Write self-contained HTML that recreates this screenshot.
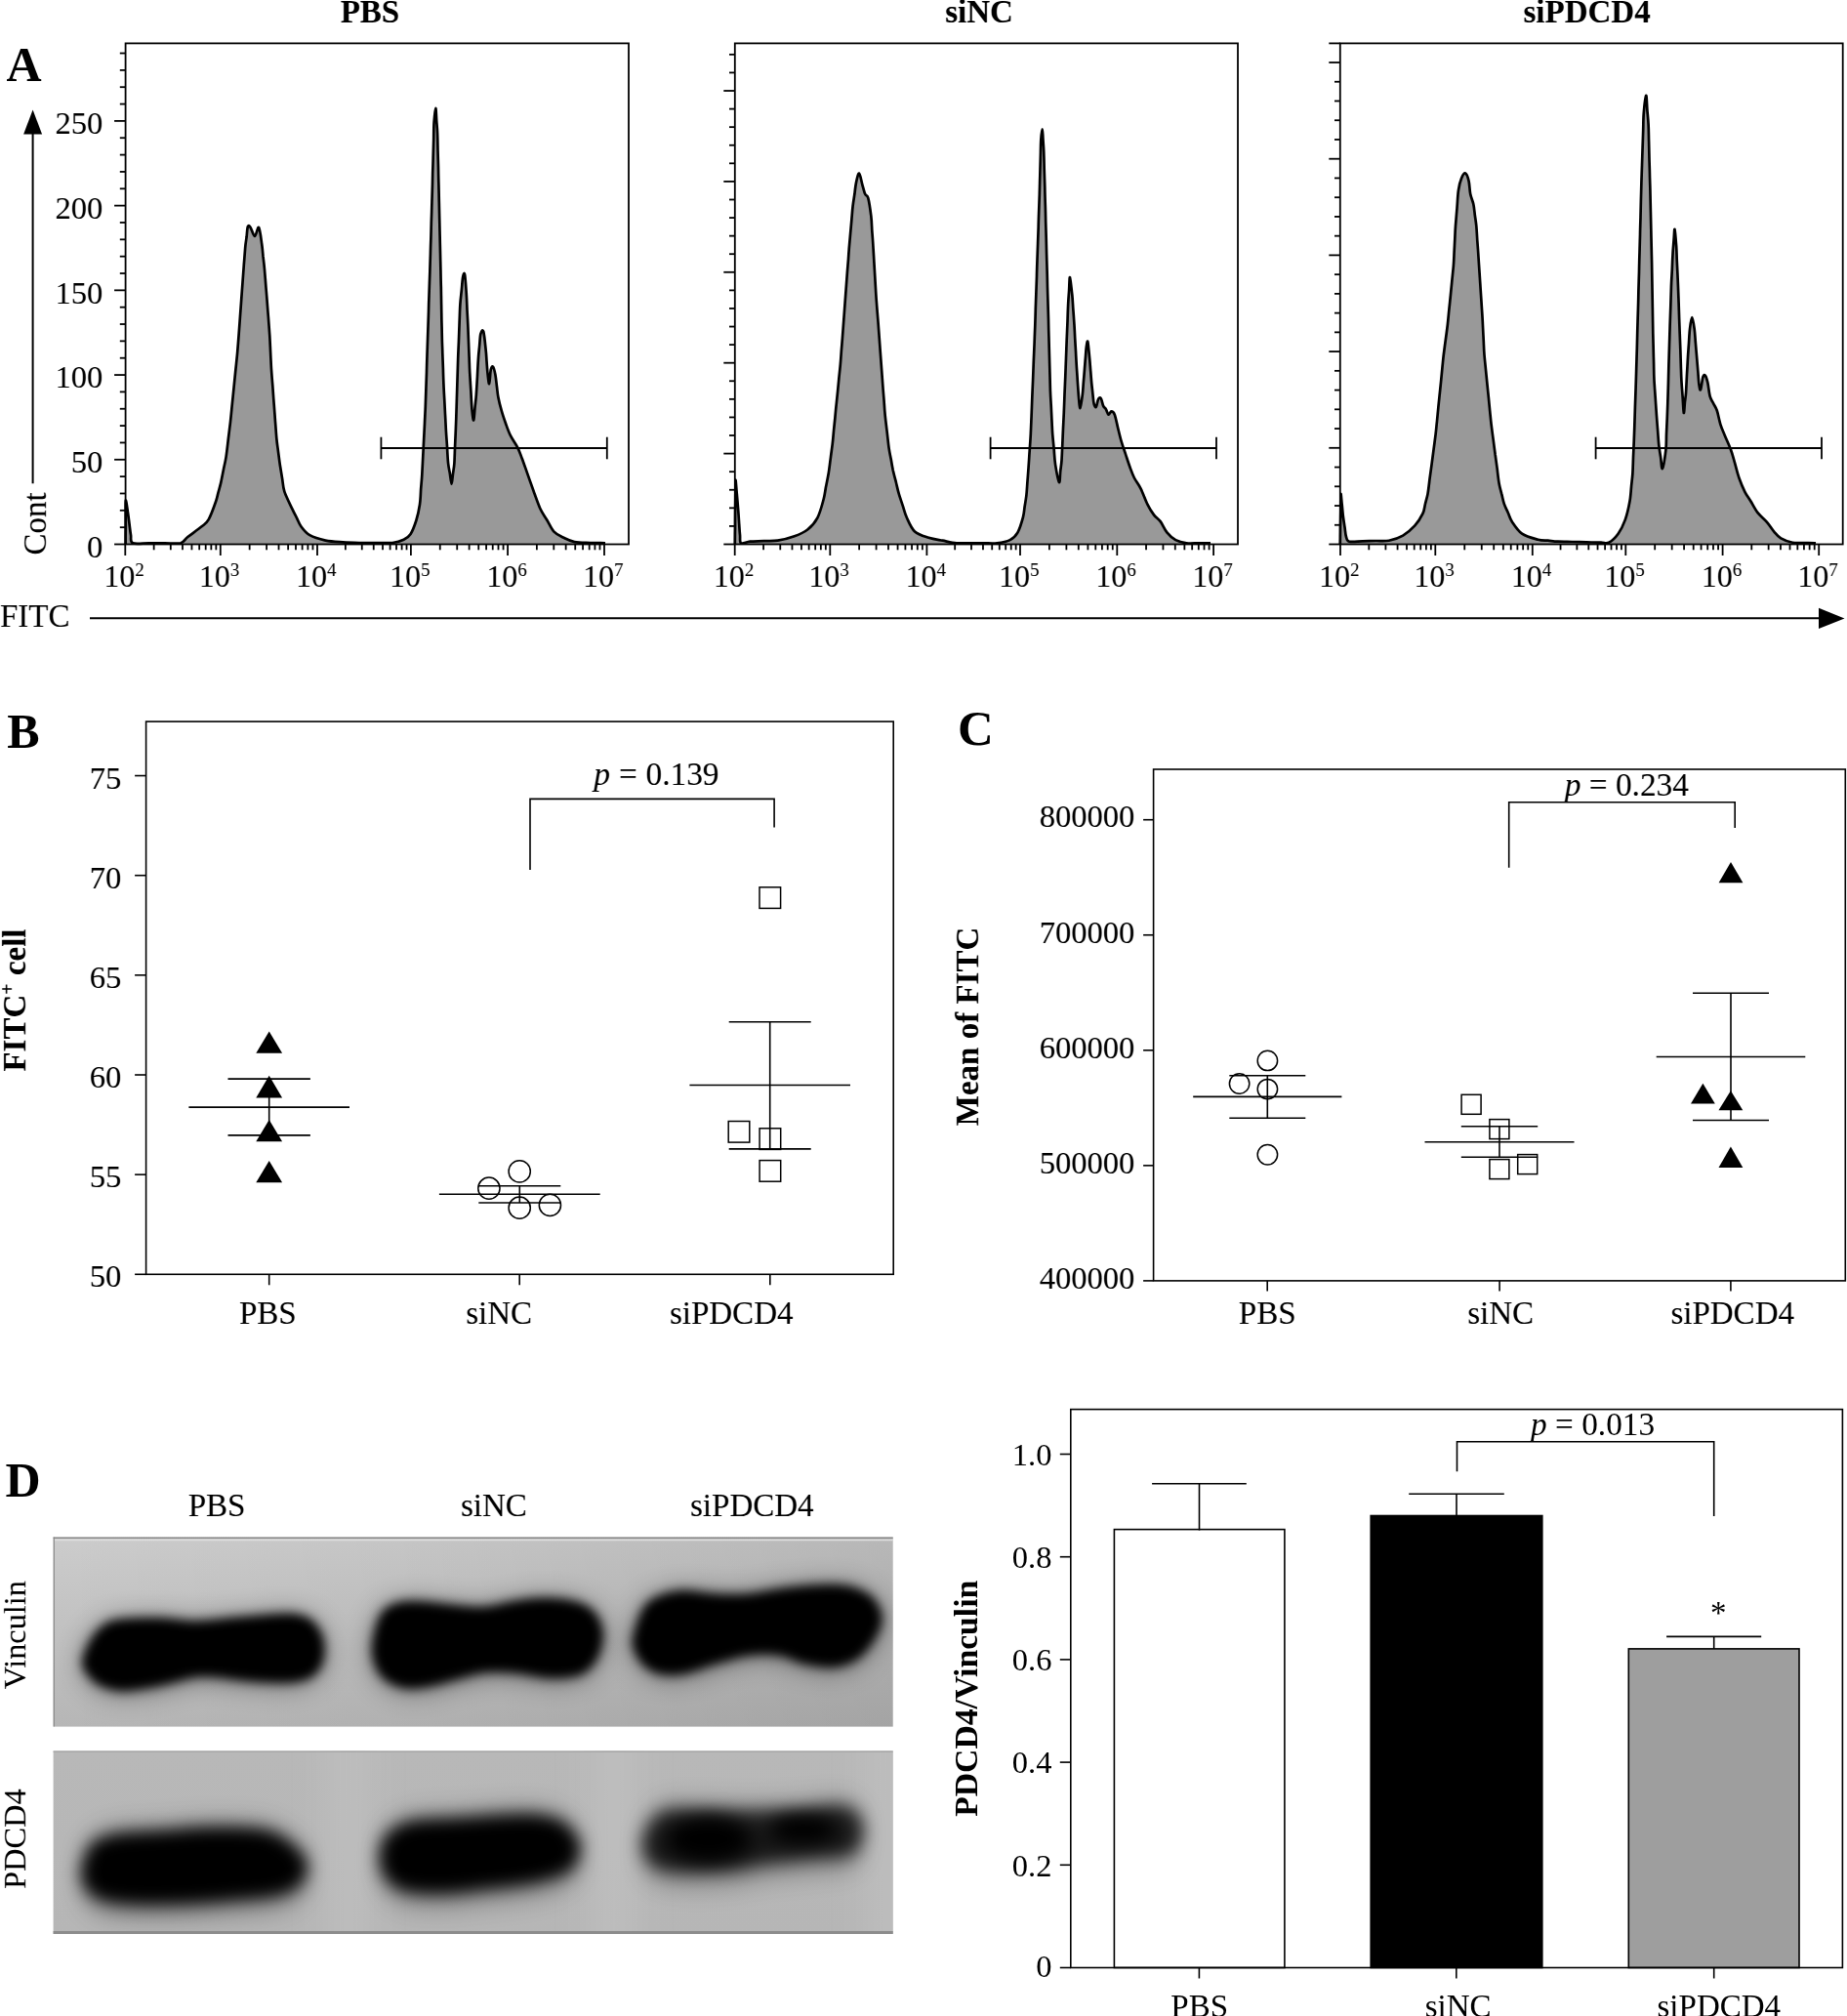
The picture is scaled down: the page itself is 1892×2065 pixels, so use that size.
<!DOCTYPE html>
<html><head><meta charset="utf-8"><style>
html,body{margin:0;padding:0;background:#fff;}
svg{display:block;filter:grayscale(1);}
text{font-family:"Liberation Serif",serif;fill:#000;}
</style></head><body>
<svg width="1892" height="2065" viewBox="0 0 1892 2065">
<rect width="1892" height="2065" fill="#fff"/>
<path d="M128.6,557.5 C128.6,555.0 128.6,547.5 128.7,542.5 C128.7,537.5 128.7,532.5 128.7,527.5 C128.8,522.5 128.4,512.9 128.8,512.5 C129.2,512.1 130.4,521.0 131.0,525.0 C131.6,529.0 132.0,532.7 132.5,536.5 C133.0,540.3 133.4,544.7 134.0,548.0 C134.6,551.3 132.9,554.9 136.0,556.3 C139.1,557.7 146.9,556.3 152.4,556.3 C157.8,556.3 163.3,556.3 168.7,556.3 C174.2,556.3 181.2,557.3 185.1,556.3 C189.0,555.2 188.7,552.8 192.3,550.0 C195.9,547.2 203.0,542.3 206.6,539.3 C210.2,536.3 211.3,536.3 213.7,532.1 C216.1,527.9 219.3,518.9 220.9,514.3 C222.5,509.7 222.7,507.7 223.6,504.4 C224.4,501.2 225.3,498.5 226.2,494.6 C227.1,490.7 228.0,485.7 228.9,481.2 C229.8,476.8 230.8,473.1 231.6,467.9 C232.4,462.7 233.1,456.0 233.8,450.0 C234.5,444.0 235.3,438.1 236.0,432.1 C236.7,426.1 237.2,420.2 237.8,414.2 C238.4,408.3 239.0,402.3 239.6,396.4 C240.2,390.4 240.8,384.5 241.4,378.5 C242.0,372.6 242.7,366.6 243.2,360.7 C243.7,354.8 244.1,348.8 244.6,342.9 C245.0,336.9 245.5,330.9 245.9,325.0 C246.3,319.1 246.8,313.1 247.2,307.1 C247.6,301.2 248.1,295.2 248.5,289.3 C248.9,283.4 249.4,277.4 249.8,271.4 C250.3,265.5 250.8,258.4 251.2,253.6 C251.6,248.8 252.1,246.4 252.6,242.8 C253.0,239.3 253.2,233.7 253.9,232.1 C254.6,230.5 255.4,231.3 256.6,233.0 C257.8,234.7 259.6,242.0 261.0,242.0 C262.4,242.0 263.9,231.7 265.1,233.0 C266.3,234.3 267.5,245.1 268.2,250.0 C268.9,254.9 269.1,258.3 269.5,262.5 C270.0,266.7 270.5,270.2 270.9,275.0 C271.3,279.8 271.8,285.7 272.2,291.1 C272.6,296.4 273.1,301.4 273.5,307.1 C273.9,312.8 274.4,319.0 274.9,325.0 C275.3,331.0 275.8,336.9 276.2,342.9 C276.6,348.9 276.8,354.8 277.1,360.8 C277.4,366.7 277.6,372.7 278.0,378.6 C278.4,384.6 278.9,390.5 279.4,396.5 C279.8,402.4 280.2,408.4 280.7,414.3 C281.1,420.2 281.6,426.2 282.0,432.1 C282.5,438.1 282.9,444.8 283.4,450.0 C283.9,455.2 284.6,458.9 285.1,463.4 C285.7,467.9 286.2,472.3 286.9,476.8 C287.6,481.3 288.4,485.7 289.1,490.2 C289.9,494.7 289.7,498.4 291.4,503.6 C293.1,508.8 297.3,516.9 299.4,521.4 C301.5,525.9 302.4,527.4 303.9,530.3 C305.4,533.3 306.2,536.3 308.4,539.3 C310.6,542.3 313.1,545.8 317.3,548.2 C321.5,550.6 327.8,552.4 333.4,553.6 C339.0,554.8 345.4,555.0 351.2,555.4 C357.0,555.8 362.4,555.9 368.0,556.0 C373.6,556.1 379.3,556.0 385.0,556.0 C390.7,556.0 397.2,556.5 402.0,556.0 C406.8,555.5 410.5,554.3 413.6,552.8 C416.7,551.3 418.5,550.3 420.6,547.0 C422.7,543.7 424.8,538.0 426.4,533.0 C428.0,528.0 429.2,521.9 430.0,516.7 C430.8,511.5 430.8,506.6 431.1,501.6 C431.5,496.5 432.0,491.8 432.3,486.4 C432.6,481.0 432.9,474.7 433.2,468.9 C433.5,463.1 433.8,457.2 434.1,451.4 C434.4,445.6 434.7,439.7 435.0,433.9 C435.2,428.1 435.6,422.2 435.8,416.4 C436.0,410.6 436.2,404.7 436.4,398.9 C436.6,393.1 436.8,387.3 437.0,381.4 C437.1,375.6 437.3,369.8 437.5,364.0 C437.7,358.2 437.9,352.3 438.1,346.5 C438.3,340.7 438.5,334.8 438.7,329.0 C438.9,323.2 439.1,317.3 439.2,311.5 C439.4,305.7 439.6,299.8 439.8,294.0 C440.0,288.2 440.2,282.1 440.4,276.5 C440.6,270.9 440.7,265.6 440.9,260.2 C441.0,254.7 441.2,249.3 441.4,243.9 C441.5,238.4 441.7,233.0 441.8,227.5 C442.0,222.1 442.2,216.7 442.3,211.2 C442.5,205.8 442.6,200.5 442.8,194.9 C443.0,189.3 443.1,183.2 443.2,177.4 C443.4,171.6 443.6,165.8 443.7,159.9 C443.9,154.1 444.0,148.3 444.2,142.5 C444.3,136.7 444.2,130.2 444.6,125.0 C445.0,119.8 445.9,111.2 446.3,111.0 C446.7,110.8 446.9,119.5 447.2,123.8 C447.5,128.1 447.9,131.5 448.1,136.6 C448.3,141.7 448.4,148.3 448.5,154.1 C448.7,159.9 448.8,165.8 449.0,171.6 C449.1,177.4 449.2,183.3 449.4,189.1 C449.5,194.9 449.7,200.8 449.8,206.6 C449.9,212.4 450.1,218.2 450.2,224.1 C450.3,229.9 450.5,235.7 450.6,241.6 C450.7,247.4 450.9,253.2 451.0,259.0 C451.1,264.8 451.3,270.7 451.4,276.5 C451.5,282.3 451.6,288.2 451.8,294.0 C451.9,299.8 452.0,305.7 452.1,311.5 C452.2,317.3 452.3,323.2 452.4,329.0 C452.6,334.8 452.7,341.0 452.8,346.5 C452.9,352.0 453.2,356.9 453.3,362.0 C453.5,367.2 453.7,372.4 453.9,377.6 C454.0,382.7 454.2,387.9 454.4,393.1 C454.6,398.3 454.9,403.5 455.2,408.6 C455.5,413.8 455.7,419.0 456.0,424.2 C456.3,429.3 456.5,434.2 456.8,439.7 C457.1,445.2 457.6,451.4 458.0,457.2 C458.3,463.0 458.6,470.0 459.1,474.7 C459.6,479.4 460.3,481.7 460.9,485.2 C461.4,488.7 462.1,495.7 462.6,495.7 C463.1,495.7 463.5,488.7 464.0,485.2 C464.5,481.7 465.1,479.0 465.4,474.7 C465.7,470.4 465.8,464.3 466.0,459.2 C466.2,454.0 466.5,448.8 466.7,443.6 C466.9,438.5 467.1,433.9 467.3,428.1 C467.5,422.3 467.7,415.1 467.9,408.7 C468.1,402.2 468.3,395.7 468.5,389.2 C468.7,382.8 468.9,376.3 469.1,369.8 C469.3,363.3 469.6,356.8 469.9,350.4 C470.1,343.9 470.4,337.4 470.6,330.9 C470.9,324.5 471.0,317.1 471.4,311.5 C471.8,305.9 472.3,302.2 472.8,297.5 C473.3,292.8 473.6,286.2 474.2,283.5 C474.8,280.8 475.5,278.5 476.1,281.2 C476.7,283.9 477.3,293.8 477.7,299.8 C478.1,305.8 478.3,311.5 478.5,317.3 C478.8,323.1 479.2,329.3 479.4,334.8 C479.6,340.3 479.8,345.2 480.0,350.3 C480.2,355.5 480.4,360.7 480.6,365.9 C480.8,371.0 480.9,375.5 481.2,381.4 C481.5,387.3 482.0,394.6 482.4,401.2 C482.8,407.9 483.1,416.2 483.6,421.1 C484.1,426.0 484.7,431.0 485.2,430.4 C485.7,429.8 486.1,421.9 486.5,417.6 C486.9,413.3 487.4,410.2 487.8,404.8 C488.2,399.4 488.6,391.6 489.0,385.0 C489.3,378.3 489.7,370.4 490.1,365.1 C490.5,359.9 490.9,357.3 491.2,353.5 C491.6,349.6 491.7,344.1 492.4,341.8 C493.1,339.5 494.3,336.8 495.2,339.5 C496.1,342.2 497.1,353.1 497.6,358.1 C498.2,363.1 498.2,365.9 498.5,369.8 C498.8,373.6 499.0,377.5 499.4,381.4 C499.8,385.3 500.6,393.5 501.1,393.1 C501.7,392.7 502.1,382.0 502.7,379.1 C503.3,376.2 504.2,374.8 505.0,375.6 C505.8,376.4 506.8,380.5 507.4,383.8 C508.0,387.1 508.4,391.6 508.9,395.5 C509.4,399.3 509.6,402.8 510.4,407.1 C511.2,411.4 512.5,416.4 513.9,421.1 C515.2,425.8 517.0,430.8 518.5,435.1 C520.0,439.4 521.2,442.8 523.2,446.7 C525.2,450.6 528.2,454.5 530.2,458.4 C532.2,462.3 533.1,465.3 534.9,470.0 C536.6,474.7 538.8,480.9 540.7,486.4 C542.6,491.8 544.4,496.9 546.5,502.7 C548.6,508.5 551.2,516.2 553.5,521.3 C555.8,526.3 558.2,529.1 560.5,533.0 C562.8,536.9 564.8,541.8 567.5,544.7 C570.2,547.6 573.3,548.8 576.8,550.5 C580.3,552.2 583.8,554.2 588.5,555.1 C593.2,556.0 599.5,555.8 604.8,556.0 C610.0,556.2 617.5,556.2 620.0,556.3 L620.0,557.5 L128.6,557.5 Z" fill="#999999" stroke="none"/>
<path d="M128.6,557.5 C128.6,555.0 128.6,547.5 128.7,542.5 C128.7,537.5 128.7,532.5 128.7,527.5 C128.8,522.5 128.4,512.9 128.8,512.5 C129.2,512.1 130.4,521.0 131.0,525.0 C131.6,529.0 132.0,532.7 132.5,536.5 C133.0,540.3 133.4,544.7 134.0,548.0 C134.6,551.3 132.9,554.9 136.0,556.3 C139.1,557.7 146.9,556.3 152.4,556.3 C157.8,556.3 163.3,556.3 168.7,556.3 C174.2,556.3 181.2,557.3 185.1,556.3 C189.0,555.2 188.7,552.8 192.3,550.0 C195.9,547.2 203.0,542.3 206.6,539.3 C210.2,536.3 211.3,536.3 213.7,532.1 C216.1,527.9 219.3,518.9 220.9,514.3 C222.5,509.7 222.7,507.7 223.6,504.4 C224.4,501.2 225.3,498.5 226.2,494.6 C227.1,490.7 228.0,485.7 228.9,481.2 C229.8,476.8 230.8,473.1 231.6,467.9 C232.4,462.7 233.1,456.0 233.8,450.0 C234.5,444.0 235.3,438.1 236.0,432.1 C236.7,426.1 237.2,420.2 237.8,414.2 C238.4,408.3 239.0,402.3 239.6,396.4 C240.2,390.4 240.8,384.5 241.4,378.5 C242.0,372.6 242.7,366.6 243.2,360.7 C243.7,354.8 244.1,348.8 244.6,342.9 C245.0,336.9 245.5,330.9 245.9,325.0 C246.3,319.1 246.8,313.1 247.2,307.1 C247.6,301.2 248.1,295.2 248.5,289.3 C248.9,283.4 249.4,277.4 249.8,271.4 C250.3,265.5 250.8,258.4 251.2,253.6 C251.6,248.8 252.1,246.4 252.6,242.8 C253.0,239.3 253.2,233.7 253.9,232.1 C254.6,230.5 255.4,231.3 256.6,233.0 C257.8,234.7 259.6,242.0 261.0,242.0 C262.4,242.0 263.9,231.7 265.1,233.0 C266.3,234.3 267.5,245.1 268.2,250.0 C268.9,254.9 269.1,258.3 269.5,262.5 C270.0,266.7 270.5,270.2 270.9,275.0 C271.3,279.8 271.8,285.7 272.2,291.1 C272.6,296.4 273.1,301.4 273.5,307.1 C273.9,312.8 274.4,319.0 274.9,325.0 C275.3,331.0 275.8,336.9 276.2,342.9 C276.6,348.9 276.8,354.8 277.1,360.8 C277.4,366.7 277.6,372.7 278.0,378.6 C278.4,384.6 278.9,390.5 279.4,396.5 C279.8,402.4 280.2,408.4 280.7,414.3 C281.1,420.2 281.6,426.2 282.0,432.1 C282.5,438.1 282.9,444.8 283.4,450.0 C283.9,455.2 284.6,458.9 285.1,463.4 C285.7,467.9 286.2,472.3 286.9,476.8 C287.6,481.3 288.4,485.7 289.1,490.2 C289.9,494.7 289.7,498.4 291.4,503.6 C293.1,508.8 297.3,516.9 299.4,521.4 C301.5,525.9 302.4,527.4 303.9,530.3 C305.4,533.3 306.2,536.3 308.4,539.3 C310.6,542.3 313.1,545.8 317.3,548.2 C321.5,550.6 327.8,552.4 333.4,553.6 C339.0,554.8 345.4,555.0 351.2,555.4 C357.0,555.8 362.4,555.9 368.0,556.0 C373.6,556.1 379.3,556.0 385.0,556.0 C390.7,556.0 397.2,556.5 402.0,556.0 C406.8,555.5 410.5,554.3 413.6,552.8 C416.7,551.3 418.5,550.3 420.6,547.0 C422.7,543.7 424.8,538.0 426.4,533.0 C428.0,528.0 429.2,521.9 430.0,516.7 C430.8,511.5 430.8,506.6 431.1,501.6 C431.5,496.5 432.0,491.8 432.3,486.4 C432.6,481.0 432.9,474.7 433.2,468.9 C433.5,463.1 433.8,457.2 434.1,451.4 C434.4,445.6 434.7,439.7 435.0,433.9 C435.2,428.1 435.6,422.2 435.8,416.4 C436.0,410.6 436.2,404.7 436.4,398.9 C436.6,393.1 436.8,387.3 437.0,381.4 C437.1,375.6 437.3,369.8 437.5,364.0 C437.7,358.2 437.9,352.3 438.1,346.5 C438.3,340.7 438.5,334.8 438.7,329.0 C438.9,323.2 439.1,317.3 439.2,311.5 C439.4,305.7 439.6,299.8 439.8,294.0 C440.0,288.2 440.2,282.1 440.4,276.5 C440.6,270.9 440.7,265.6 440.9,260.2 C441.0,254.7 441.2,249.3 441.4,243.9 C441.5,238.4 441.7,233.0 441.8,227.5 C442.0,222.1 442.2,216.7 442.3,211.2 C442.5,205.8 442.6,200.5 442.8,194.9 C443.0,189.3 443.1,183.2 443.2,177.4 C443.4,171.6 443.6,165.8 443.7,159.9 C443.9,154.1 444.0,148.3 444.2,142.5 C444.3,136.7 444.2,130.2 444.6,125.0 C445.0,119.8 445.9,111.2 446.3,111.0 C446.7,110.8 446.9,119.5 447.2,123.8 C447.5,128.1 447.9,131.5 448.1,136.6 C448.3,141.7 448.4,148.3 448.5,154.1 C448.7,159.9 448.8,165.8 449.0,171.6 C449.1,177.4 449.2,183.3 449.4,189.1 C449.5,194.9 449.7,200.8 449.8,206.6 C449.9,212.4 450.1,218.2 450.2,224.1 C450.3,229.9 450.5,235.7 450.6,241.6 C450.7,247.4 450.9,253.2 451.0,259.0 C451.1,264.8 451.3,270.7 451.4,276.5 C451.5,282.3 451.6,288.2 451.8,294.0 C451.9,299.8 452.0,305.7 452.1,311.5 C452.2,317.3 452.3,323.2 452.4,329.0 C452.6,334.8 452.7,341.0 452.8,346.5 C452.9,352.0 453.2,356.9 453.3,362.0 C453.5,367.2 453.7,372.4 453.9,377.6 C454.0,382.7 454.2,387.9 454.4,393.1 C454.6,398.3 454.9,403.5 455.2,408.6 C455.5,413.8 455.7,419.0 456.0,424.2 C456.3,429.3 456.5,434.2 456.8,439.7 C457.1,445.2 457.6,451.4 458.0,457.2 C458.3,463.0 458.6,470.0 459.1,474.7 C459.6,479.4 460.3,481.7 460.9,485.2 C461.4,488.7 462.1,495.7 462.6,495.7 C463.1,495.7 463.5,488.7 464.0,485.2 C464.5,481.7 465.1,479.0 465.4,474.7 C465.7,470.4 465.8,464.3 466.0,459.2 C466.2,454.0 466.5,448.8 466.7,443.6 C466.9,438.5 467.1,433.9 467.3,428.1 C467.5,422.3 467.7,415.1 467.9,408.7 C468.1,402.2 468.3,395.7 468.5,389.2 C468.7,382.8 468.9,376.3 469.1,369.8 C469.3,363.3 469.6,356.8 469.9,350.4 C470.1,343.9 470.4,337.4 470.6,330.9 C470.9,324.5 471.0,317.1 471.4,311.5 C471.8,305.9 472.3,302.2 472.8,297.5 C473.3,292.8 473.6,286.2 474.2,283.5 C474.8,280.8 475.5,278.5 476.1,281.2 C476.7,283.9 477.3,293.8 477.7,299.8 C478.1,305.8 478.3,311.5 478.5,317.3 C478.8,323.1 479.2,329.3 479.4,334.8 C479.6,340.3 479.8,345.2 480.0,350.3 C480.2,355.5 480.4,360.7 480.6,365.9 C480.8,371.0 480.9,375.5 481.2,381.4 C481.5,387.3 482.0,394.6 482.4,401.2 C482.8,407.9 483.1,416.2 483.6,421.1 C484.1,426.0 484.7,431.0 485.2,430.4 C485.7,429.8 486.1,421.9 486.5,417.6 C486.9,413.3 487.4,410.2 487.8,404.8 C488.2,399.4 488.6,391.6 489.0,385.0 C489.3,378.3 489.7,370.4 490.1,365.1 C490.5,359.9 490.9,357.3 491.2,353.5 C491.6,349.6 491.7,344.1 492.4,341.8 C493.1,339.5 494.3,336.8 495.2,339.5 C496.1,342.2 497.1,353.1 497.6,358.1 C498.2,363.1 498.2,365.9 498.5,369.8 C498.8,373.6 499.0,377.5 499.4,381.4 C499.8,385.3 500.6,393.5 501.1,393.1 C501.7,392.7 502.1,382.0 502.7,379.1 C503.3,376.2 504.2,374.8 505.0,375.6 C505.8,376.4 506.8,380.5 507.4,383.8 C508.0,387.1 508.4,391.6 508.9,395.5 C509.4,399.3 509.6,402.8 510.4,407.1 C511.2,411.4 512.5,416.4 513.9,421.1 C515.2,425.8 517.0,430.8 518.5,435.1 C520.0,439.4 521.2,442.8 523.2,446.7 C525.2,450.6 528.2,454.5 530.2,458.4 C532.2,462.3 533.1,465.3 534.9,470.0 C536.6,474.7 538.8,480.9 540.7,486.4 C542.6,491.8 544.4,496.9 546.5,502.7 C548.6,508.5 551.2,516.2 553.5,521.3 C555.8,526.3 558.2,529.1 560.5,533.0 C562.8,536.9 564.8,541.8 567.5,544.7 C570.2,547.6 573.3,548.8 576.8,550.5 C580.3,552.2 583.8,554.2 588.5,555.1 C593.2,556.0 599.5,555.8 604.8,556.0 C610.0,556.2 617.5,556.2 620.0,556.3" fill="none" stroke="#000" stroke-width="2.7" stroke-linejoin="round"/>
<rect x="128.6" y="44.4" width="515.4" height="513.1" fill="none" stroke="#000" stroke-width="1.8"/>
<line x1="117.10" y1="557.50" x2="128.60" y2="557.50" stroke="#000" stroke-width="1.8" stroke-linecap="butt"/>
<line x1="122.80" y1="540.16" x2="128.60" y2="540.16" stroke="#000" stroke-width="1.8" stroke-linecap="butt"/>
<line x1="122.80" y1="522.81" x2="128.60" y2="522.81" stroke="#000" stroke-width="1.8" stroke-linecap="butt"/>
<line x1="122.80" y1="505.47" x2="128.60" y2="505.47" stroke="#000" stroke-width="1.8" stroke-linecap="butt"/>
<line x1="122.80" y1="488.12" x2="128.60" y2="488.12" stroke="#000" stroke-width="1.8" stroke-linecap="butt"/>
<line x1="117.10" y1="470.78" x2="128.60" y2="470.78" stroke="#000" stroke-width="1.8" stroke-linecap="butt"/>
<line x1="122.80" y1="453.44" x2="128.60" y2="453.44" stroke="#000" stroke-width="1.8" stroke-linecap="butt"/>
<line x1="122.80" y1="436.09" x2="128.60" y2="436.09" stroke="#000" stroke-width="1.8" stroke-linecap="butt"/>
<line x1="122.80" y1="418.75" x2="128.60" y2="418.75" stroke="#000" stroke-width="1.8" stroke-linecap="butt"/>
<line x1="122.80" y1="401.40" x2="128.60" y2="401.40" stroke="#000" stroke-width="1.8" stroke-linecap="butt"/>
<line x1="117.10" y1="384.06" x2="128.60" y2="384.06" stroke="#000" stroke-width="1.8" stroke-linecap="butt"/>
<line x1="122.80" y1="366.72" x2="128.60" y2="366.72" stroke="#000" stroke-width="1.8" stroke-linecap="butt"/>
<line x1="122.80" y1="349.37" x2="128.60" y2="349.37" stroke="#000" stroke-width="1.8" stroke-linecap="butt"/>
<line x1="122.80" y1="332.03" x2="128.60" y2="332.03" stroke="#000" stroke-width="1.8" stroke-linecap="butt"/>
<line x1="122.80" y1="314.68" x2="128.60" y2="314.68" stroke="#000" stroke-width="1.8" stroke-linecap="butt"/>
<line x1="117.10" y1="297.34" x2="128.60" y2="297.34" stroke="#000" stroke-width="1.8" stroke-linecap="butt"/>
<line x1="122.80" y1="280.00" x2="128.60" y2="280.00" stroke="#000" stroke-width="1.8" stroke-linecap="butt"/>
<line x1="122.80" y1="262.65" x2="128.60" y2="262.65" stroke="#000" stroke-width="1.8" stroke-linecap="butt"/>
<line x1="122.80" y1="245.31" x2="128.60" y2="245.31" stroke="#000" stroke-width="1.8" stroke-linecap="butt"/>
<line x1="122.80" y1="227.96" x2="128.60" y2="227.96" stroke="#000" stroke-width="1.8" stroke-linecap="butt"/>
<line x1="117.10" y1="210.62" x2="128.60" y2="210.62" stroke="#000" stroke-width="1.8" stroke-linecap="butt"/>
<line x1="122.80" y1="193.28" x2="128.60" y2="193.28" stroke="#000" stroke-width="1.8" stroke-linecap="butt"/>
<line x1="122.80" y1="175.93" x2="128.60" y2="175.93" stroke="#000" stroke-width="1.8" stroke-linecap="butt"/>
<line x1="122.80" y1="158.59" x2="128.60" y2="158.59" stroke="#000" stroke-width="1.8" stroke-linecap="butt"/>
<line x1="122.80" y1="141.24" x2="128.60" y2="141.24" stroke="#000" stroke-width="1.8" stroke-linecap="butt"/>
<line x1="117.10" y1="123.90" x2="128.60" y2="123.90" stroke="#000" stroke-width="1.8" stroke-linecap="butt"/>
<line x1="122.80" y1="106.56" x2="128.60" y2="106.56" stroke="#000" stroke-width="1.8" stroke-linecap="butt"/>
<line x1="122.80" y1="89.21" x2="128.60" y2="89.21" stroke="#000" stroke-width="1.8" stroke-linecap="butt"/>
<line x1="122.80" y1="71.87" x2="128.60" y2="71.87" stroke="#000" stroke-width="1.8" stroke-linecap="butt"/>
<line x1="122.80" y1="54.52" x2="128.60" y2="54.52" stroke="#000" stroke-width="1.8" stroke-linecap="butt"/>
<line x1="128.30" y1="557.50" x2="128.30" y2="569.00" stroke="#000" stroke-width="1.8" stroke-linecap="butt"/>
<line x1="157.65" y1="557.50" x2="157.65" y2="563.30" stroke="#000" stroke-width="1.8" stroke-linecap="butt"/>
<line x1="174.82" y1="557.50" x2="174.82" y2="563.30" stroke="#000" stroke-width="1.8" stroke-linecap="butt"/>
<line x1="187.00" y1="557.50" x2="187.00" y2="563.30" stroke="#000" stroke-width="1.8" stroke-linecap="butt"/>
<line x1="196.45" y1="557.50" x2="196.45" y2="563.30" stroke="#000" stroke-width="1.8" stroke-linecap="butt"/>
<line x1="204.17" y1="557.50" x2="204.17" y2="563.30" stroke="#000" stroke-width="1.8" stroke-linecap="butt"/>
<line x1="210.70" y1="557.50" x2="210.70" y2="563.30" stroke="#000" stroke-width="1.8" stroke-linecap="butt"/>
<line x1="216.35" y1="557.50" x2="216.35" y2="563.30" stroke="#000" stroke-width="1.8" stroke-linecap="butt"/>
<line x1="221.34" y1="557.50" x2="221.34" y2="563.30" stroke="#000" stroke-width="1.8" stroke-linecap="butt"/>
<line x1="225.80" y1="557.50" x2="225.80" y2="569.00" stroke="#000" stroke-width="1.8" stroke-linecap="butt"/>
<line x1="255.66" y1="557.50" x2="255.66" y2="563.30" stroke="#000" stroke-width="1.8" stroke-linecap="butt"/>
<line x1="273.13" y1="557.50" x2="273.13" y2="563.30" stroke="#000" stroke-width="1.8" stroke-linecap="butt"/>
<line x1="285.52" y1="557.50" x2="285.52" y2="563.30" stroke="#000" stroke-width="1.8" stroke-linecap="butt"/>
<line x1="295.14" y1="557.50" x2="295.14" y2="563.30" stroke="#000" stroke-width="1.8" stroke-linecap="butt"/>
<line x1="302.99" y1="557.50" x2="302.99" y2="563.30" stroke="#000" stroke-width="1.8" stroke-linecap="butt"/>
<line x1="309.63" y1="557.50" x2="309.63" y2="563.30" stroke="#000" stroke-width="1.8" stroke-linecap="butt"/>
<line x1="315.39" y1="557.50" x2="315.39" y2="563.30" stroke="#000" stroke-width="1.8" stroke-linecap="butt"/>
<line x1="320.46" y1="557.50" x2="320.46" y2="563.30" stroke="#000" stroke-width="1.8" stroke-linecap="butt"/>
<line x1="325.00" y1="557.50" x2="325.00" y2="569.00" stroke="#000" stroke-width="1.8" stroke-linecap="butt"/>
<line x1="353.87" y1="557.50" x2="353.87" y2="563.30" stroke="#000" stroke-width="1.8" stroke-linecap="butt"/>
<line x1="370.76" y1="557.50" x2="370.76" y2="563.30" stroke="#000" stroke-width="1.8" stroke-linecap="butt"/>
<line x1="382.74" y1="557.50" x2="382.74" y2="563.30" stroke="#000" stroke-width="1.8" stroke-linecap="butt"/>
<line x1="392.03" y1="557.50" x2="392.03" y2="563.30" stroke="#000" stroke-width="1.8" stroke-linecap="butt"/>
<line x1="399.62" y1="557.50" x2="399.62" y2="563.30" stroke="#000" stroke-width="1.8" stroke-linecap="butt"/>
<line x1="406.04" y1="557.50" x2="406.04" y2="563.30" stroke="#000" stroke-width="1.8" stroke-linecap="butt"/>
<line x1="411.61" y1="557.50" x2="411.61" y2="563.30" stroke="#000" stroke-width="1.8" stroke-linecap="butt"/>
<line x1="416.51" y1="557.50" x2="416.51" y2="563.30" stroke="#000" stroke-width="1.8" stroke-linecap="butt"/>
<line x1="420.90" y1="557.50" x2="420.90" y2="569.00" stroke="#000" stroke-width="1.8" stroke-linecap="butt"/>
<line x1="450.76" y1="557.50" x2="450.76" y2="563.30" stroke="#000" stroke-width="1.8" stroke-linecap="butt"/>
<line x1="468.23" y1="557.50" x2="468.23" y2="563.30" stroke="#000" stroke-width="1.8" stroke-linecap="butt"/>
<line x1="480.62" y1="557.50" x2="480.62" y2="563.30" stroke="#000" stroke-width="1.8" stroke-linecap="butt"/>
<line x1="490.24" y1="557.50" x2="490.24" y2="563.30" stroke="#000" stroke-width="1.8" stroke-linecap="butt"/>
<line x1="498.09" y1="557.50" x2="498.09" y2="563.30" stroke="#000" stroke-width="1.8" stroke-linecap="butt"/>
<line x1="504.73" y1="557.50" x2="504.73" y2="563.30" stroke="#000" stroke-width="1.8" stroke-linecap="butt"/>
<line x1="510.49" y1="557.50" x2="510.49" y2="563.30" stroke="#000" stroke-width="1.8" stroke-linecap="butt"/>
<line x1="515.56" y1="557.50" x2="515.56" y2="563.30" stroke="#000" stroke-width="1.8" stroke-linecap="butt"/>
<line x1="520.10" y1="557.50" x2="520.10" y2="569.00" stroke="#000" stroke-width="1.8" stroke-linecap="butt"/>
<line x1="549.87" y1="557.50" x2="549.87" y2="563.30" stroke="#000" stroke-width="1.8" stroke-linecap="butt"/>
<line x1="567.29" y1="557.50" x2="567.29" y2="563.30" stroke="#000" stroke-width="1.8" stroke-linecap="butt"/>
<line x1="579.64" y1="557.50" x2="579.64" y2="563.30" stroke="#000" stroke-width="1.8" stroke-linecap="butt"/>
<line x1="589.23" y1="557.50" x2="589.23" y2="563.30" stroke="#000" stroke-width="1.8" stroke-linecap="butt"/>
<line x1="597.06" y1="557.50" x2="597.06" y2="563.30" stroke="#000" stroke-width="1.8" stroke-linecap="butt"/>
<line x1="603.68" y1="557.50" x2="603.68" y2="563.30" stroke="#000" stroke-width="1.8" stroke-linecap="butt"/>
<line x1="609.42" y1="557.50" x2="609.42" y2="563.30" stroke="#000" stroke-width="1.8" stroke-linecap="butt"/>
<line x1="614.47" y1="557.50" x2="614.47" y2="563.30" stroke="#000" stroke-width="1.8" stroke-linecap="butt"/>
<line x1="619.00" y1="557.50" x2="619.00" y2="569.00" stroke="#000" stroke-width="1.8" stroke-linecap="butt"/>
<text x="127.1" y="600.5" font-size="32" text-anchor="middle">10<tspan font-size="19" dy="-11">2</tspan></text>
<text x="224.6" y="600.5" font-size="32" text-anchor="middle">10<tspan font-size="19" dy="-11">3</tspan></text>
<text x="323.8" y="600.5" font-size="32" text-anchor="middle">10<tspan font-size="19" dy="-11">4</tspan></text>
<text x="419.7" y="600.5" font-size="32" text-anchor="middle">10<tspan font-size="19" dy="-11">5</tspan></text>
<text x="518.9" y="600.5" font-size="32" text-anchor="middle">10<tspan font-size="19" dy="-11">6</tspan></text>
<text x="617.8" y="600.5" font-size="32" text-anchor="middle">10<tspan font-size="19" dy="-11">7</tspan></text>
<line x1="390.40" y1="459.00" x2="621.80" y2="459.00" stroke="#000" stroke-width="1.8" stroke-linecap="butt"/>
<line x1="390.40" y1="447.70" x2="390.40" y2="470.30" stroke="#000" stroke-width="1.8" stroke-linecap="butt"/>
<line x1="621.80" y1="447.70" x2="621.80" y2="470.30" stroke="#000" stroke-width="1.8" stroke-linecap="butt"/>
<path d="M752.8,557.5 C752.8,554.8 752.9,546.5 753.0,541.0 C753.0,535.6 753.1,530.1 753.1,524.6 C753.2,519.1 753.3,513.6 753.3,508.1 C753.4,502.7 753.3,492.1 753.5,491.7 C753.7,491.3 754.3,501.1 754.8,505.9 C755.2,510.6 755.6,515.3 756.0,520.0 C756.4,524.7 756.7,529.3 757.0,534.0 C757.3,538.7 757.6,544.3 758.0,548.0 C758.4,551.7 757.4,555.2 759.1,556.3 C760.8,557.4 764.4,555.1 768.3,554.7 C772.2,554.4 777.8,554.4 782.5,554.2 C787.2,554.0 791.6,554.5 796.7,553.7 C801.8,552.9 807.9,551.5 813.0,549.6 C818.1,547.7 823.1,545.7 827.2,542.5 C831.3,539.3 834.7,535.4 837.4,530.3 C840.1,525.2 842.1,517.2 843.5,512.0 C844.9,506.8 845.2,503.2 846.0,498.8 C846.9,494.4 847.8,490.3 848.6,485.6 C849.4,480.9 850.0,475.4 850.7,470.4 C851.3,465.3 852.1,459.9 852.7,455.1 C853.3,450.3 853.6,446.1 854.0,441.5 C854.5,437.0 854.9,432.5 855.4,428.0 C855.8,423.4 856.2,418.9 856.7,414.4 C857.2,409.9 857.6,405.4 858.1,400.8 C858.5,396.3 859.0,391.8 859.4,387.3 C859.9,382.7 860.4,378.2 860.8,373.7 C861.2,369.2 861.5,364.7 861.8,360.1 C862.2,355.6 862.5,351.1 862.9,346.6 C863.2,342.0 863.6,337.5 863.9,333.0 C864.2,328.5 864.6,324.0 864.9,319.5 C865.2,315.0 865.6,310.4 865.9,305.9 C866.2,301.4 866.6,296.9 866.9,292.4 C867.2,287.9 867.6,283.4 867.9,278.8 C868.3,274.3 868.6,269.8 869.0,265.3 C869.3,260.7 869.6,256.2 870.0,251.7 C870.4,247.2 870.8,242.7 871.2,238.1 C871.6,233.6 872.0,229.1 872.4,224.6 C872.8,220.0 873.1,215.3 873.6,211.0 C874.1,206.7 874.8,202.9 875.4,198.8 C875.9,194.7 876.3,190.2 877.1,186.6 C877.9,183.0 879.1,177.2 880.1,177.5 C881.1,177.8 882.2,185.0 883.2,188.6 C884.2,192.2 885.2,196.4 886.2,198.8 C887.2,201.2 888.3,199.2 889.3,202.9 C890.3,206.6 891.6,215.6 892.3,221.2 C893.0,226.8 893.0,231.4 893.3,236.4 C893.7,241.5 894.1,246.3 894.4,251.7 C894.7,257.1 895.1,263.0 895.4,268.6 C895.7,274.3 896.1,279.9 896.4,285.6 C896.7,291.2 897.1,297.4 897.4,302.5 C897.7,307.6 898.1,311.5 898.4,316.1 C898.8,320.6 899.1,325.1 899.5,329.6 C899.8,334.2 900.2,338.7 900.5,343.2 C900.8,347.7 901.2,352.2 901.5,356.8 C901.8,361.3 902.2,365.8 902.5,370.3 C902.8,374.9 903.2,379.4 903.5,383.9 C903.8,388.4 904.2,392.9 904.5,397.5 C904.9,402.0 905.2,406.5 905.6,411.0 C905.9,415.6 906.1,419.5 906.6,424.6 C907.1,429.7 907.9,436.1 908.6,441.9 C909.3,447.6 909.9,454.4 910.6,459.1 C911.3,463.8 912.0,466.6 912.7,470.3 C913.3,474.0 913.9,477.6 914.7,481.5 C915.6,485.4 916.7,489.6 917.8,493.7 C918.8,497.8 919.6,501.8 920.8,505.9 C922.0,510.0 923.5,514.0 924.8,518.1 C926.2,522.2 926.9,525.9 928.9,530.3 C930.9,534.7 933.4,541.1 937.1,544.5 C940.8,547.9 946.6,549.2 951.3,550.7 C956.0,552.2 960.8,552.8 965.5,553.7 C970.2,554.6 975.1,555.9 979.8,556.3 C984.5,556.7 989.0,556.3 993.6,556.3 C998.2,556.3 1002.9,556.3 1007.5,556.3 C1012.1,556.3 1016.8,556.8 1021.3,556.3 C1025.8,555.8 1031.1,554.9 1034.6,553.1 C1038.1,551.3 1040.3,549.2 1042.5,545.3 C1044.7,541.4 1046.8,534.1 1048.0,529.6 C1049.2,525.1 1049.1,522.2 1049.7,518.5 C1050.3,514.7 1050.9,511.6 1051.4,507.3 C1051.9,503.0 1052.1,497.6 1052.5,492.8 C1052.9,488.0 1053.2,483.5 1053.6,478.3 C1054.0,473.1 1054.3,467.1 1054.7,461.6 C1055.1,456.0 1055.5,450.7 1055.8,444.8 C1056.1,438.9 1056.3,432.4 1056.6,426.2 C1056.8,420.0 1057.1,413.8 1057.3,407.6 C1057.6,401.4 1057.8,395.2 1058.1,389.0 C1058.3,382.8 1058.6,376.6 1058.8,370.4 C1059.1,364.2 1059.3,358.0 1059.6,351.8 C1059.8,345.6 1060.1,339.1 1060.3,333.2 C1060.5,327.3 1060.7,322.1 1060.8,316.5 C1061.0,310.9 1061.2,305.3 1061.4,299.8 C1061.6,294.2 1061.8,288.6 1062.0,283.0 C1062.1,277.4 1062.3,271.9 1062.5,266.3 C1062.7,260.7 1062.9,255.1 1063.1,249.6 C1063.3,244.0 1063.5,238.4 1063.7,232.8 C1063.8,227.2 1064.0,221.6 1064.2,216.1 C1064.4,210.5 1064.6,205.2 1064.8,199.3 C1065.0,193.4 1065.1,186.9 1065.3,180.7 C1065.5,174.5 1065.6,168.3 1065.8,162.1 C1066.0,155.9 1066.0,148.5 1066.3,143.5 C1066.6,138.5 1067.3,132.3 1067.7,132.3 C1068.1,132.3 1068.2,139.7 1068.5,143.4 C1068.7,147.2 1069.0,149.6 1069.2,154.6 C1069.4,159.6 1069.6,167.0 1069.7,173.2 C1069.9,179.4 1070.1,185.6 1070.3,191.8 C1070.4,198.0 1070.6,204.5 1070.8,210.4 C1071.0,216.3 1071.1,221.6 1071.2,227.2 C1071.4,232.7 1071.5,238.3 1071.7,243.9 C1071.8,249.5 1072.0,255.1 1072.1,260.6 C1072.3,266.2 1072.4,271.8 1072.6,277.4 C1072.8,283.0 1072.9,288.6 1073.0,294.1 C1073.2,299.7 1073.3,305.3 1073.5,310.9 C1073.7,316.5 1073.8,322.1 1074.0,327.6 C1074.1,333.2 1074.2,338.5 1074.4,344.4 C1074.6,350.3 1074.7,356.8 1074.9,363.0 C1075.1,369.2 1075.2,375.4 1075.4,381.6 C1075.6,387.8 1075.7,394.6 1075.9,400.2 C1076.1,405.8 1076.4,410.1 1076.7,415.1 C1076.9,420.0 1077.2,425.0 1077.4,429.9 C1077.7,434.9 1077.8,439.7 1078.2,444.8 C1078.6,449.9 1079.2,455.2 1079.7,460.5 C1080.1,465.7 1080.2,470.5 1081.1,476.1 C1082.0,481.7 1084.1,492.8 1084.9,493.9 C1085.8,495.0 1085.8,486.5 1086.2,482.8 C1086.6,479.0 1087.2,476.2 1087.5,471.6 C1087.8,467.0 1088.0,460.7 1088.3,455.2 C1088.5,449.8 1088.8,444.3 1089.0,438.9 C1089.3,433.4 1089.5,428.3 1089.8,422.5 C1090.0,416.7 1090.3,410.1 1090.5,403.9 C1090.8,397.7 1091.0,391.5 1091.3,385.3 C1091.5,379.1 1091.8,372.9 1092.0,366.7 C1092.2,360.5 1092.5,354.3 1092.7,348.1 C1093.0,341.9 1093.2,335.7 1093.5,329.5 C1093.7,323.3 1093.9,316.2 1094.2,310.9 C1094.5,305.6 1094.8,302.0 1095.1,297.5 C1095.4,293.0 1095.5,283.4 1096.0,284.1 C1096.5,284.9 1097.7,296.4 1098.3,302.0 C1098.9,307.6 1099.0,312.4 1099.4,317.6 C1099.8,322.8 1100.2,328.4 1100.5,333.2 C1100.8,338.0 1101.0,342.1 1101.2,346.6 C1101.5,351.1 1101.7,355.5 1102.0,360.0 C1102.2,364.5 1102.4,368.4 1102.7,373.4 C1103.0,378.4 1103.5,384.6 1103.8,390.1 C1104.2,395.7 1104.6,402.3 1105.0,406.9 C1105.4,411.5 1105.9,418.4 1106.5,418.0 C1107.1,417.6 1108.2,409.1 1108.8,404.6 C1109.4,400.1 1109.5,395.7 1109.9,391.2 C1110.3,386.8 1110.7,382.0 1111.0,377.9 C1111.3,373.8 1111.6,370.4 1111.9,366.7 C1112.2,363.0 1112.4,358.3 1112.8,355.5 C1113.2,352.7 1113.8,348.1 1114.3,350.0 C1114.8,351.9 1115.6,361.7 1116.1,366.7 C1116.6,371.7 1116.8,375.6 1117.2,380.1 C1117.6,384.6 1117.9,389.6 1118.3,393.5 C1118.7,397.4 1119.1,400.2 1119.4,403.6 C1119.8,406.9 1120.0,411.4 1120.6,413.6 C1121.2,415.8 1122.1,417.6 1122.8,416.9 C1123.5,416.1 1124.2,410.6 1125.0,409.1 C1125.8,407.6 1126.8,406.9 1127.7,408.0 C1128.6,409.1 1129.3,413.9 1130.2,415.8 C1131.1,417.7 1132.0,417.7 1132.9,419.2 C1133.8,420.7 1134.6,424.3 1135.5,424.7 C1136.4,425.1 1137.4,421.4 1138.4,421.4 C1139.5,421.4 1140.7,421.9 1141.8,424.7 C1142.9,427.5 1144.0,433.6 1145.1,438.1 C1146.2,442.6 1147.2,447.0 1148.5,451.5 C1149.8,456.0 1151.4,460.4 1152.9,464.9 C1154.4,469.4 1155.9,474.2 1157.4,478.3 C1158.9,482.4 1160.0,485.8 1161.9,489.5 C1163.8,493.2 1166.4,496.1 1168.6,500.6 C1170.8,505.1 1173.1,511.8 1175.3,516.3 C1177.5,520.8 1179.8,524.4 1182.0,527.4 C1184.2,530.4 1186.5,531.1 1188.7,534.1 C1190.9,537.1 1192.8,542.1 1195.4,545.3 C1198.0,548.5 1201.0,551.3 1204.3,553.1 C1207.6,554.9 1211.5,555.8 1215.4,556.3 C1219.3,556.8 1223.6,556.3 1227.7,556.3 C1231.8,556.3 1238.0,556.3 1240.0,556.3 L1240.0,557.5 L752.8,557.5 Z" fill="#999999" stroke="none"/>
<path d="M752.8,557.5 C752.8,554.8 752.9,546.5 753.0,541.0 C753.0,535.6 753.1,530.1 753.1,524.6 C753.2,519.1 753.3,513.6 753.3,508.1 C753.4,502.7 753.3,492.1 753.5,491.7 C753.7,491.3 754.3,501.1 754.8,505.9 C755.2,510.6 755.6,515.3 756.0,520.0 C756.4,524.7 756.7,529.3 757.0,534.0 C757.3,538.7 757.6,544.3 758.0,548.0 C758.4,551.7 757.4,555.2 759.1,556.3 C760.8,557.4 764.4,555.1 768.3,554.7 C772.2,554.4 777.8,554.4 782.5,554.2 C787.2,554.0 791.6,554.5 796.7,553.7 C801.8,552.9 807.9,551.5 813.0,549.6 C818.1,547.7 823.1,545.7 827.2,542.5 C831.3,539.3 834.7,535.4 837.4,530.3 C840.1,525.2 842.1,517.2 843.5,512.0 C844.9,506.8 845.2,503.2 846.0,498.8 C846.9,494.4 847.8,490.3 848.6,485.6 C849.4,480.9 850.0,475.4 850.7,470.4 C851.3,465.3 852.1,459.9 852.7,455.1 C853.3,450.3 853.6,446.1 854.0,441.5 C854.5,437.0 854.9,432.5 855.4,428.0 C855.8,423.4 856.2,418.9 856.7,414.4 C857.2,409.9 857.6,405.4 858.1,400.8 C858.5,396.3 859.0,391.8 859.4,387.3 C859.9,382.7 860.4,378.2 860.8,373.7 C861.2,369.2 861.5,364.7 861.8,360.1 C862.2,355.6 862.5,351.1 862.9,346.6 C863.2,342.0 863.6,337.5 863.9,333.0 C864.2,328.5 864.6,324.0 864.9,319.5 C865.2,315.0 865.6,310.4 865.9,305.9 C866.2,301.4 866.6,296.9 866.9,292.4 C867.2,287.9 867.6,283.4 867.9,278.8 C868.3,274.3 868.6,269.8 869.0,265.3 C869.3,260.7 869.6,256.2 870.0,251.7 C870.4,247.2 870.8,242.7 871.2,238.1 C871.6,233.6 872.0,229.1 872.4,224.6 C872.8,220.0 873.1,215.3 873.6,211.0 C874.1,206.7 874.8,202.9 875.4,198.8 C875.9,194.7 876.3,190.2 877.1,186.6 C877.9,183.0 879.1,177.2 880.1,177.5 C881.1,177.8 882.2,185.0 883.2,188.6 C884.2,192.2 885.2,196.4 886.2,198.8 C887.2,201.2 888.3,199.2 889.3,202.9 C890.3,206.6 891.6,215.6 892.3,221.2 C893.0,226.8 893.0,231.4 893.3,236.4 C893.7,241.5 894.1,246.3 894.4,251.7 C894.7,257.1 895.1,263.0 895.4,268.6 C895.7,274.3 896.1,279.9 896.4,285.6 C896.7,291.2 897.1,297.4 897.4,302.5 C897.7,307.6 898.1,311.5 898.4,316.1 C898.8,320.6 899.1,325.1 899.5,329.6 C899.8,334.2 900.2,338.7 900.5,343.2 C900.8,347.7 901.2,352.2 901.5,356.8 C901.8,361.3 902.2,365.8 902.5,370.3 C902.8,374.9 903.2,379.4 903.5,383.9 C903.8,388.4 904.2,392.9 904.5,397.5 C904.9,402.0 905.2,406.5 905.6,411.0 C905.9,415.6 906.1,419.5 906.6,424.6 C907.1,429.7 907.9,436.1 908.6,441.9 C909.3,447.6 909.9,454.4 910.6,459.1 C911.3,463.8 912.0,466.6 912.7,470.3 C913.3,474.0 913.9,477.6 914.7,481.5 C915.6,485.4 916.7,489.6 917.8,493.7 C918.8,497.8 919.6,501.8 920.8,505.9 C922.0,510.0 923.5,514.0 924.8,518.1 C926.2,522.2 926.9,525.9 928.9,530.3 C930.9,534.7 933.4,541.1 937.1,544.5 C940.8,547.9 946.6,549.2 951.3,550.7 C956.0,552.2 960.8,552.8 965.5,553.7 C970.2,554.6 975.1,555.9 979.8,556.3 C984.5,556.7 989.0,556.3 993.6,556.3 C998.2,556.3 1002.9,556.3 1007.5,556.3 C1012.1,556.3 1016.8,556.8 1021.3,556.3 C1025.8,555.8 1031.1,554.9 1034.6,553.1 C1038.1,551.3 1040.3,549.2 1042.5,545.3 C1044.7,541.4 1046.8,534.1 1048.0,529.6 C1049.2,525.1 1049.1,522.2 1049.7,518.5 C1050.3,514.7 1050.9,511.6 1051.4,507.3 C1051.9,503.0 1052.1,497.6 1052.5,492.8 C1052.9,488.0 1053.2,483.5 1053.6,478.3 C1054.0,473.1 1054.3,467.1 1054.7,461.6 C1055.1,456.0 1055.5,450.7 1055.8,444.8 C1056.1,438.9 1056.3,432.4 1056.6,426.2 C1056.8,420.0 1057.1,413.8 1057.3,407.6 C1057.6,401.4 1057.8,395.2 1058.1,389.0 C1058.3,382.8 1058.6,376.6 1058.8,370.4 C1059.1,364.2 1059.3,358.0 1059.6,351.8 C1059.8,345.6 1060.1,339.1 1060.3,333.2 C1060.5,327.3 1060.7,322.1 1060.8,316.5 C1061.0,310.9 1061.2,305.3 1061.4,299.8 C1061.6,294.2 1061.8,288.6 1062.0,283.0 C1062.1,277.4 1062.3,271.9 1062.5,266.3 C1062.7,260.7 1062.9,255.1 1063.1,249.6 C1063.3,244.0 1063.5,238.4 1063.7,232.8 C1063.8,227.2 1064.0,221.6 1064.2,216.1 C1064.4,210.5 1064.6,205.2 1064.8,199.3 C1065.0,193.4 1065.1,186.9 1065.3,180.7 C1065.5,174.5 1065.6,168.3 1065.8,162.1 C1066.0,155.9 1066.0,148.5 1066.3,143.5 C1066.6,138.5 1067.3,132.3 1067.7,132.3 C1068.1,132.3 1068.2,139.7 1068.5,143.4 C1068.7,147.2 1069.0,149.6 1069.2,154.6 C1069.4,159.6 1069.6,167.0 1069.7,173.2 C1069.9,179.4 1070.1,185.6 1070.3,191.8 C1070.4,198.0 1070.6,204.5 1070.8,210.4 C1071.0,216.3 1071.1,221.6 1071.2,227.2 C1071.4,232.7 1071.5,238.3 1071.7,243.9 C1071.8,249.5 1072.0,255.1 1072.1,260.6 C1072.3,266.2 1072.4,271.8 1072.6,277.4 C1072.8,283.0 1072.9,288.6 1073.0,294.1 C1073.2,299.7 1073.3,305.3 1073.5,310.9 C1073.7,316.5 1073.8,322.1 1074.0,327.6 C1074.1,333.2 1074.2,338.5 1074.4,344.4 C1074.6,350.3 1074.7,356.8 1074.9,363.0 C1075.1,369.2 1075.2,375.4 1075.4,381.6 C1075.6,387.8 1075.7,394.6 1075.9,400.2 C1076.1,405.8 1076.4,410.1 1076.7,415.1 C1076.9,420.0 1077.2,425.0 1077.4,429.9 C1077.7,434.9 1077.8,439.7 1078.2,444.8 C1078.6,449.9 1079.2,455.2 1079.7,460.5 C1080.1,465.7 1080.2,470.5 1081.1,476.1 C1082.0,481.7 1084.1,492.8 1084.9,493.9 C1085.8,495.0 1085.8,486.5 1086.2,482.8 C1086.6,479.0 1087.2,476.2 1087.5,471.6 C1087.8,467.0 1088.0,460.7 1088.3,455.2 C1088.5,449.8 1088.8,444.3 1089.0,438.9 C1089.3,433.4 1089.5,428.3 1089.8,422.5 C1090.0,416.7 1090.3,410.1 1090.5,403.9 C1090.8,397.7 1091.0,391.5 1091.3,385.3 C1091.5,379.1 1091.8,372.9 1092.0,366.7 C1092.2,360.5 1092.5,354.3 1092.7,348.1 C1093.0,341.9 1093.2,335.7 1093.5,329.5 C1093.7,323.3 1093.9,316.2 1094.2,310.9 C1094.5,305.6 1094.8,302.0 1095.1,297.5 C1095.4,293.0 1095.5,283.4 1096.0,284.1 C1096.5,284.9 1097.7,296.4 1098.3,302.0 C1098.9,307.6 1099.0,312.4 1099.4,317.6 C1099.8,322.8 1100.2,328.4 1100.5,333.2 C1100.8,338.0 1101.0,342.1 1101.2,346.6 C1101.5,351.1 1101.7,355.5 1102.0,360.0 C1102.2,364.5 1102.4,368.4 1102.7,373.4 C1103.0,378.4 1103.5,384.6 1103.8,390.1 C1104.2,395.7 1104.6,402.3 1105.0,406.9 C1105.4,411.5 1105.9,418.4 1106.5,418.0 C1107.1,417.6 1108.2,409.1 1108.8,404.6 C1109.4,400.1 1109.5,395.7 1109.9,391.2 C1110.3,386.8 1110.7,382.0 1111.0,377.9 C1111.3,373.8 1111.6,370.4 1111.9,366.7 C1112.2,363.0 1112.4,358.3 1112.8,355.5 C1113.2,352.7 1113.8,348.1 1114.3,350.0 C1114.8,351.9 1115.6,361.7 1116.1,366.7 C1116.6,371.7 1116.8,375.6 1117.2,380.1 C1117.6,384.6 1117.9,389.6 1118.3,393.5 C1118.7,397.4 1119.1,400.2 1119.4,403.6 C1119.8,406.9 1120.0,411.4 1120.6,413.6 C1121.2,415.8 1122.1,417.6 1122.8,416.9 C1123.5,416.1 1124.2,410.6 1125.0,409.1 C1125.8,407.6 1126.8,406.9 1127.7,408.0 C1128.6,409.1 1129.3,413.9 1130.2,415.8 C1131.1,417.7 1132.0,417.7 1132.9,419.2 C1133.8,420.7 1134.6,424.3 1135.5,424.7 C1136.4,425.1 1137.4,421.4 1138.4,421.4 C1139.5,421.4 1140.7,421.9 1141.8,424.7 C1142.9,427.5 1144.0,433.6 1145.1,438.1 C1146.2,442.6 1147.2,447.0 1148.5,451.5 C1149.8,456.0 1151.4,460.4 1152.9,464.9 C1154.4,469.4 1155.9,474.2 1157.4,478.3 C1158.9,482.4 1160.0,485.8 1161.9,489.5 C1163.8,493.2 1166.4,496.1 1168.6,500.6 C1170.8,505.1 1173.1,511.8 1175.3,516.3 C1177.5,520.8 1179.8,524.4 1182.0,527.4 C1184.2,530.4 1186.5,531.1 1188.7,534.1 C1190.9,537.1 1192.8,542.1 1195.4,545.3 C1198.0,548.5 1201.0,551.3 1204.3,553.1 C1207.6,554.9 1211.5,555.8 1215.4,556.3 C1219.3,556.8 1223.6,556.3 1227.7,556.3 C1231.8,556.3 1238.0,556.3 1240.0,556.3" fill="none" stroke="#000" stroke-width="2.7" stroke-linejoin="round"/>
<rect x="752.8" y="44.4" width="515.2" height="513.1" fill="none" stroke="#000" stroke-width="1.8"/>
<line x1="741.30" y1="557.50" x2="752.80" y2="557.50" stroke="#000" stroke-width="1.8" stroke-linecap="butt"/>
<line x1="747.00" y1="538.92" x2="752.80" y2="538.92" stroke="#000" stroke-width="1.8" stroke-linecap="butt"/>
<line x1="747.00" y1="520.34" x2="752.80" y2="520.34" stroke="#000" stroke-width="1.8" stroke-linecap="butt"/>
<line x1="747.00" y1="501.76" x2="752.80" y2="501.76" stroke="#000" stroke-width="1.8" stroke-linecap="butt"/>
<line x1="747.00" y1="483.18" x2="752.80" y2="483.18" stroke="#000" stroke-width="1.8" stroke-linecap="butt"/>
<line x1="741.30" y1="464.60" x2="752.80" y2="464.60" stroke="#000" stroke-width="1.8" stroke-linecap="butt"/>
<line x1="747.00" y1="446.02" x2="752.80" y2="446.02" stroke="#000" stroke-width="1.8" stroke-linecap="butt"/>
<line x1="747.00" y1="427.44" x2="752.80" y2="427.44" stroke="#000" stroke-width="1.8" stroke-linecap="butt"/>
<line x1="747.00" y1="408.86" x2="752.80" y2="408.86" stroke="#000" stroke-width="1.8" stroke-linecap="butt"/>
<line x1="747.00" y1="390.28" x2="752.80" y2="390.28" stroke="#000" stroke-width="1.8" stroke-linecap="butt"/>
<line x1="741.30" y1="371.70" x2="752.80" y2="371.70" stroke="#000" stroke-width="1.8" stroke-linecap="butt"/>
<line x1="747.00" y1="353.12" x2="752.80" y2="353.12" stroke="#000" stroke-width="1.8" stroke-linecap="butt"/>
<line x1="747.00" y1="334.54" x2="752.80" y2="334.54" stroke="#000" stroke-width="1.8" stroke-linecap="butt"/>
<line x1="747.00" y1="315.96" x2="752.80" y2="315.96" stroke="#000" stroke-width="1.8" stroke-linecap="butt"/>
<line x1="747.00" y1="297.38" x2="752.80" y2="297.38" stroke="#000" stroke-width="1.8" stroke-linecap="butt"/>
<line x1="741.30" y1="278.80" x2="752.80" y2="278.80" stroke="#000" stroke-width="1.8" stroke-linecap="butt"/>
<line x1="747.00" y1="260.22" x2="752.80" y2="260.22" stroke="#000" stroke-width="1.8" stroke-linecap="butt"/>
<line x1="747.00" y1="241.64" x2="752.80" y2="241.64" stroke="#000" stroke-width="1.8" stroke-linecap="butt"/>
<line x1="747.00" y1="223.06" x2="752.80" y2="223.06" stroke="#000" stroke-width="1.8" stroke-linecap="butt"/>
<line x1="747.00" y1="204.48" x2="752.80" y2="204.48" stroke="#000" stroke-width="1.8" stroke-linecap="butt"/>
<line x1="741.30" y1="185.90" x2="752.80" y2="185.90" stroke="#000" stroke-width="1.8" stroke-linecap="butt"/>
<line x1="747.00" y1="167.32" x2="752.80" y2="167.32" stroke="#000" stroke-width="1.8" stroke-linecap="butt"/>
<line x1="747.00" y1="148.74" x2="752.80" y2="148.74" stroke="#000" stroke-width="1.8" stroke-linecap="butt"/>
<line x1="747.00" y1="130.16" x2="752.80" y2="130.16" stroke="#000" stroke-width="1.8" stroke-linecap="butt"/>
<line x1="747.00" y1="111.58" x2="752.80" y2="111.58" stroke="#000" stroke-width="1.8" stroke-linecap="butt"/>
<line x1="741.30" y1="93.00" x2="752.80" y2="93.00" stroke="#000" stroke-width="1.8" stroke-linecap="butt"/>
<line x1="747.00" y1="74.42" x2="752.80" y2="74.42" stroke="#000" stroke-width="1.8" stroke-linecap="butt"/>
<line x1="747.00" y1="55.84" x2="752.80" y2="55.84" stroke="#000" stroke-width="1.8" stroke-linecap="butt"/>
<line x1="752.70" y1="557.50" x2="752.70" y2="569.00" stroke="#000" stroke-width="1.8" stroke-linecap="butt"/>
<line x1="782.08" y1="557.50" x2="782.08" y2="563.30" stroke="#000" stroke-width="1.8" stroke-linecap="butt"/>
<line x1="799.27" y1="557.50" x2="799.27" y2="563.30" stroke="#000" stroke-width="1.8" stroke-linecap="butt"/>
<line x1="811.46" y1="557.50" x2="811.46" y2="563.30" stroke="#000" stroke-width="1.8" stroke-linecap="butt"/>
<line x1="820.92" y1="557.50" x2="820.92" y2="563.30" stroke="#000" stroke-width="1.8" stroke-linecap="butt"/>
<line x1="828.65" y1="557.50" x2="828.65" y2="563.30" stroke="#000" stroke-width="1.8" stroke-linecap="butt"/>
<line x1="835.18" y1="557.50" x2="835.18" y2="563.30" stroke="#000" stroke-width="1.8" stroke-linecap="butt"/>
<line x1="840.84" y1="557.50" x2="840.84" y2="563.30" stroke="#000" stroke-width="1.8" stroke-linecap="butt"/>
<line x1="845.83" y1="557.50" x2="845.83" y2="563.30" stroke="#000" stroke-width="1.8" stroke-linecap="butt"/>
<line x1="850.30" y1="557.50" x2="850.30" y2="569.00" stroke="#000" stroke-width="1.8" stroke-linecap="butt"/>
<line x1="880.13" y1="557.50" x2="880.13" y2="563.30" stroke="#000" stroke-width="1.8" stroke-linecap="butt"/>
<line x1="897.58" y1="557.50" x2="897.58" y2="563.30" stroke="#000" stroke-width="1.8" stroke-linecap="butt"/>
<line x1="909.96" y1="557.50" x2="909.96" y2="563.30" stroke="#000" stroke-width="1.8" stroke-linecap="butt"/>
<line x1="919.57" y1="557.50" x2="919.57" y2="563.30" stroke="#000" stroke-width="1.8" stroke-linecap="butt"/>
<line x1="927.41" y1="557.50" x2="927.41" y2="563.30" stroke="#000" stroke-width="1.8" stroke-linecap="butt"/>
<line x1="934.05" y1="557.50" x2="934.05" y2="563.30" stroke="#000" stroke-width="1.8" stroke-linecap="butt"/>
<line x1="939.80" y1="557.50" x2="939.80" y2="563.30" stroke="#000" stroke-width="1.8" stroke-linecap="butt"/>
<line x1="944.87" y1="557.50" x2="944.87" y2="563.30" stroke="#000" stroke-width="1.8" stroke-linecap="butt"/>
<line x1="949.40" y1="557.50" x2="949.40" y2="569.00" stroke="#000" stroke-width="1.8" stroke-linecap="butt"/>
<line x1="978.18" y1="557.50" x2="978.18" y2="563.30" stroke="#000" stroke-width="1.8" stroke-linecap="butt"/>
<line x1="995.01" y1="557.50" x2="995.01" y2="563.30" stroke="#000" stroke-width="1.8" stroke-linecap="butt"/>
<line x1="1006.96" y1="557.50" x2="1006.96" y2="563.30" stroke="#000" stroke-width="1.8" stroke-linecap="butt"/>
<line x1="1016.22" y1="557.50" x2="1016.22" y2="563.30" stroke="#000" stroke-width="1.8" stroke-linecap="butt"/>
<line x1="1023.79" y1="557.50" x2="1023.79" y2="563.30" stroke="#000" stroke-width="1.8" stroke-linecap="butt"/>
<line x1="1030.19" y1="557.50" x2="1030.19" y2="563.30" stroke="#000" stroke-width="1.8" stroke-linecap="butt"/>
<line x1="1035.74" y1="557.50" x2="1035.74" y2="563.30" stroke="#000" stroke-width="1.8" stroke-linecap="butt"/>
<line x1="1040.63" y1="557.50" x2="1040.63" y2="563.30" stroke="#000" stroke-width="1.8" stroke-linecap="butt"/>
<line x1="1045.00" y1="557.50" x2="1045.00" y2="569.00" stroke="#000" stroke-width="1.8" stroke-linecap="butt"/>
<line x1="1074.89" y1="557.50" x2="1074.89" y2="563.30" stroke="#000" stroke-width="1.8" stroke-linecap="butt"/>
<line x1="1092.38" y1="557.50" x2="1092.38" y2="563.30" stroke="#000" stroke-width="1.8" stroke-linecap="butt"/>
<line x1="1104.78" y1="557.50" x2="1104.78" y2="563.30" stroke="#000" stroke-width="1.8" stroke-linecap="butt"/>
<line x1="1114.41" y1="557.50" x2="1114.41" y2="563.30" stroke="#000" stroke-width="1.8" stroke-linecap="butt"/>
<line x1="1122.27" y1="557.50" x2="1122.27" y2="563.30" stroke="#000" stroke-width="1.8" stroke-linecap="butt"/>
<line x1="1128.92" y1="557.50" x2="1128.92" y2="563.30" stroke="#000" stroke-width="1.8" stroke-linecap="butt"/>
<line x1="1134.68" y1="557.50" x2="1134.68" y2="563.30" stroke="#000" stroke-width="1.8" stroke-linecap="butt"/>
<line x1="1139.76" y1="557.50" x2="1139.76" y2="563.30" stroke="#000" stroke-width="1.8" stroke-linecap="butt"/>
<line x1="1144.30" y1="557.50" x2="1144.30" y2="569.00" stroke="#000" stroke-width="1.8" stroke-linecap="butt"/>
<line x1="1174.04" y1="557.50" x2="1174.04" y2="563.30" stroke="#000" stroke-width="1.8" stroke-linecap="butt"/>
<line x1="1191.44" y1="557.50" x2="1191.44" y2="563.30" stroke="#000" stroke-width="1.8" stroke-linecap="butt"/>
<line x1="1203.78" y1="557.50" x2="1203.78" y2="563.30" stroke="#000" stroke-width="1.8" stroke-linecap="butt"/>
<line x1="1213.36" y1="557.50" x2="1213.36" y2="563.30" stroke="#000" stroke-width="1.8" stroke-linecap="butt"/>
<line x1="1221.18" y1="557.50" x2="1221.18" y2="563.30" stroke="#000" stroke-width="1.8" stroke-linecap="butt"/>
<line x1="1227.80" y1="557.50" x2="1227.80" y2="563.30" stroke="#000" stroke-width="1.8" stroke-linecap="butt"/>
<line x1="1233.53" y1="557.50" x2="1233.53" y2="563.30" stroke="#000" stroke-width="1.8" stroke-linecap="butt"/>
<line x1="1238.58" y1="557.50" x2="1238.58" y2="563.30" stroke="#000" stroke-width="1.8" stroke-linecap="butt"/>
<line x1="1243.10" y1="557.50" x2="1243.10" y2="569.00" stroke="#000" stroke-width="1.8" stroke-linecap="butt"/>
<text x="751.5" y="600.5" font-size="32" text-anchor="middle">10<tspan font-size="19" dy="-11">2</tspan></text>
<text x="849.1" y="600.5" font-size="32" text-anchor="middle">10<tspan font-size="19" dy="-11">3</tspan></text>
<text x="948.2" y="600.5" font-size="32" text-anchor="middle">10<tspan font-size="19" dy="-11">4</tspan></text>
<text x="1043.8" y="600.5" font-size="32" text-anchor="middle">10<tspan font-size="19" dy="-11">5</tspan></text>
<text x="1143.1" y="600.5" font-size="32" text-anchor="middle">10<tspan font-size="19" dy="-11">6</tspan></text>
<text x="1241.9" y="600.5" font-size="32" text-anchor="middle">10<tspan font-size="19" dy="-11">7</tspan></text>
<line x1="1014.60" y1="459.00" x2="1246.00" y2="459.00" stroke="#000" stroke-width="1.8" stroke-linecap="butt"/>
<line x1="1014.60" y1="447.70" x2="1014.60" y2="470.30" stroke="#000" stroke-width="1.8" stroke-linecap="butt"/>
<line x1="1246.00" y1="447.70" x2="1246.00" y2="470.30" stroke="#000" stroke-width="1.8" stroke-linecap="butt"/>
<path d="M1372.8,557.5 C1372.8,554.6 1373.0,546.0 1373.0,540.3 C1373.1,534.6 1373.2,528.8 1373.3,523.1 C1373.3,517.4 1373.3,506.8 1373.5,505.9 C1373.7,505.0 1374.3,513.9 1374.8,518.0 C1375.2,522.0 1375.5,526.3 1376.0,530.0 C1376.5,533.7 1377.0,536.7 1377.5,540.0 C1378.0,543.3 1378.2,547.5 1379.0,550.0 C1379.8,552.5 1379.4,554.0 1382.2,554.7 C1385.0,555.4 1391.2,554.5 1395.7,554.4 C1400.2,554.3 1404.8,554.1 1409.3,554.0 C1413.8,553.9 1418.2,554.6 1422.8,553.7 C1427.4,552.8 1432.7,551.2 1437.1,548.6 C1441.5,546.0 1445.9,542.1 1449.3,538.4 C1452.7,534.7 1455.6,529.9 1457.4,526.2 C1459.2,522.5 1459.1,519.4 1460.0,516.0 C1460.8,512.7 1461.7,510.1 1462.5,505.9 C1463.3,501.7 1463.9,495.7 1464.5,490.6 C1465.2,485.6 1465.9,480.5 1466.6,475.4 C1467.3,470.3 1467.9,465.2 1468.6,460.1 C1469.3,455.1 1470.0,449.7 1470.6,444.9 C1471.2,440.1 1471.5,435.9 1472.0,431.3 C1472.4,426.8 1472.9,422.3 1473.3,417.8 C1473.8,413.2 1474.2,408.7 1474.7,404.2 C1475.2,399.7 1475.6,395.2 1476.1,390.6 C1476.5,386.1 1477.0,381.6 1477.4,377.1 C1477.9,372.5 1478.2,368.3 1478.8,363.5 C1479.4,358.7 1480.1,353.3 1480.8,348.2 C1481.5,343.2 1482.2,338.1 1482.8,333.0 C1483.4,327.9 1483.8,322.8 1484.3,317.8 C1484.9,312.7 1485.4,307.6 1485.9,302.5 C1486.4,297.4 1486.9,292.3 1487.4,287.2 C1487.9,282.2 1488.5,276.8 1488.9,272.0 C1489.3,267.2 1489.4,263.0 1489.6,258.5 C1489.8,254.0 1490.1,249.4 1490.3,244.9 C1490.5,240.4 1490.6,236.7 1491.0,231.4 C1491.4,226.1 1492.0,219.2 1492.5,213.1 C1493.0,206.9 1493.2,199.8 1494.0,194.7 C1494.8,189.6 1495.9,185.4 1497.1,182.5 C1498.3,179.6 1499.8,177.0 1501.1,177.5 C1502.3,178.0 1503.8,182.0 1504.6,185.6 C1505.4,189.2 1505.4,194.9 1506.2,198.8 C1507.0,202.7 1508.5,205.4 1509.3,209.0 C1510.1,212.6 1510.3,216.5 1510.8,220.2 C1511.3,223.9 1511.9,227.0 1512.3,231.4 C1512.7,235.8 1513.0,241.6 1513.3,246.6 C1513.7,251.7 1514.1,256.8 1514.4,261.9 C1514.7,267.0 1515.1,272.1 1515.4,277.1 C1515.7,282.2 1516.1,287.3 1516.4,292.4 C1516.7,297.5 1517.1,302.6 1517.4,307.6 C1517.7,312.7 1518.1,318.1 1518.4,322.9 C1518.7,327.7 1518.9,331.9 1519.1,336.4 C1519.3,340.9 1519.6,345.5 1519.8,350.0 C1520.0,354.5 1520.1,358.7 1520.5,363.5 C1520.9,368.3 1521.5,373.7 1522.0,378.8 C1522.5,383.8 1523.0,389.2 1523.5,394.0 C1524.0,398.8 1524.4,403.0 1524.9,407.6 C1525.3,412.1 1525.8,416.6 1526.2,421.1 C1526.7,425.7 1527.0,429.9 1527.6,434.7 C1528.2,439.5 1528.9,444.9 1529.6,449.9 C1530.3,455.0 1530.9,460.1 1531.6,465.2 C1532.3,470.3 1533.0,475.4 1533.7,480.4 C1534.3,485.5 1534.9,491.5 1535.7,495.7 C1536.5,499.9 1537.4,502.5 1538.2,505.9 C1539.1,509.3 1539.7,512.9 1540.8,516.1 C1541.9,519.3 1543.5,522.2 1544.8,525.2 C1546.2,528.3 1546.5,530.8 1548.9,534.4 C1551.3,538.0 1554.7,543.5 1559.1,546.6 C1563.5,549.7 1571.0,551.5 1575.4,552.7 C1579.8,553.9 1582.2,553.4 1585.6,553.7 C1588.9,554.0 1591.5,554.5 1595.7,554.7 C1599.9,554.9 1605.5,554.9 1610.5,555.0 C1615.4,555.1 1620.3,555.3 1625.2,555.4 C1630.2,555.5 1636.2,555.6 1640.0,555.7 C1643.8,555.8 1645.2,557.2 1648.1,555.7 C1651.0,554.2 1654.8,550.6 1657.6,546.7 C1660.4,542.8 1662.8,538.0 1664.8,532.4 C1666.8,526.8 1668.5,518.9 1669.5,513.3 C1670.5,507.7 1670.5,503.8 1671.0,499.0 C1671.4,494.3 1672.1,489.8 1672.4,484.8 C1672.7,479.8 1672.8,474.2 1673.0,468.9 C1673.2,463.6 1673.5,458.3 1673.7,453.0 C1673.9,447.7 1674.1,443.1 1674.3,437.1 C1674.5,431.1 1674.7,423.9 1674.9,417.3 C1675.1,410.7 1675.4,404.0 1675.6,397.4 C1675.8,390.8 1676.0,384.2 1676.2,377.6 C1676.4,371.0 1676.6,364.4 1676.8,357.8 C1677.0,351.2 1677.1,344.5 1677.3,337.9 C1677.5,331.3 1677.7,324.7 1677.9,318.1 C1678.1,311.5 1678.3,304.9 1678.4,298.3 C1678.6,291.7 1678.8,285.0 1679.0,278.4 C1679.1,271.8 1679.3,264.9 1679.5,258.6 C1679.7,252.3 1679.8,246.7 1680.0,240.7 C1680.1,234.8 1680.3,228.8 1680.5,222.9 C1680.6,216.9 1680.8,210.9 1680.9,205.0 C1681.1,199.0 1681.2,193.1 1681.4,187.1 C1681.6,181.1 1681.8,175.2 1682.0,169.2 C1682.2,163.3 1682.4,157.3 1682.6,151.4 C1682.8,145.5 1683.0,139.5 1683.2,133.6 C1683.4,127.6 1683.3,121.6 1683.8,115.7 C1684.3,109.8 1685.6,98.4 1686.2,97.9 C1686.8,97.4 1687.0,107.8 1687.4,112.8 C1687.8,117.7 1688.3,122.1 1688.6,127.6 C1688.9,133.0 1688.9,139.5 1689.1,145.4 C1689.2,151.4 1689.4,157.4 1689.5,163.3 C1689.7,169.2 1689.9,175.2 1690.0,181.2 C1690.2,187.1 1690.4,193.0 1690.5,199.0 C1690.6,205.0 1690.8,210.9 1690.9,216.9 C1691.0,222.8 1691.2,228.8 1691.3,234.8 C1691.4,240.7 1691.6,246.7 1691.7,252.6 C1691.8,258.6 1692.0,264.5 1692.1,270.5 C1692.2,276.5 1692.3,282.4 1692.4,288.4 C1692.5,294.3 1692.6,300.2 1692.7,306.2 C1692.8,312.1 1692.9,318.1 1693.0,324.0 C1693.1,330.0 1693.2,336.3 1693.3,341.9 C1693.4,347.5 1693.6,352.5 1693.7,357.8 C1693.8,363.1 1694.0,368.3 1694.1,373.6 C1694.2,378.9 1694.2,383.9 1694.5,389.5 C1694.8,395.1 1695.3,401.4 1695.7,407.4 C1696.1,413.3 1696.5,419.6 1696.9,425.2 C1697.3,430.8 1697.7,435.5 1698.1,440.7 C1698.5,445.9 1698.8,451.6 1699.3,456.2 C1699.8,460.8 1700.5,464.1 1701.1,468.1 C1701.7,472.1 1702.0,481.2 1702.9,480.0 C1703.8,478.8 1705.7,466.8 1706.4,461.0 C1707.1,455.2 1706.8,450.4 1707.0,445.1 C1707.2,439.8 1707.5,434.5 1707.7,429.2 C1707.9,423.9 1708.1,419.3 1708.3,413.3 C1708.5,407.3 1708.7,400.1 1708.9,393.5 C1709.1,386.9 1709.2,380.2 1709.4,373.6 C1709.6,367.0 1709.8,360.4 1710.0,353.8 C1710.2,347.2 1710.4,340.6 1710.6,334.0 C1710.8,327.4 1711.1,320.7 1711.3,314.1 C1711.5,307.5 1711.7,300.6 1711.9,294.3 C1712.1,288.0 1712.5,282.4 1712.8,276.5 C1713.0,270.5 1713.3,263.6 1713.6,258.6 C1713.9,253.6 1714.2,250.7 1714.5,246.7 C1714.9,242.7 1715.1,234.0 1715.5,234.8 C1715.9,235.6 1716.7,246.2 1717.1,251.4 C1717.5,256.6 1717.5,260.9 1717.7,265.7 C1717.9,270.5 1718.2,275.2 1718.4,280.0 C1718.6,284.8 1718.8,289.3 1719.0,294.3 C1719.2,299.3 1719.4,304.9 1719.6,310.2 C1719.8,315.5 1719.9,320.7 1720.1,326.0 C1720.3,331.3 1720.5,336.6 1720.7,341.9 C1720.9,347.2 1721.1,352.5 1721.3,357.8 C1721.5,363.1 1721.6,368.3 1721.8,373.6 C1722.0,378.9 1722.1,384.1 1722.4,389.5 C1722.7,394.9 1723.2,400.6 1723.6,406.2 C1724.0,411.8 1724.4,421.9 1724.8,422.9 C1725.2,423.9 1725.6,415.7 1725.9,412.1 C1726.3,408.6 1726.8,406.2 1727.1,401.4 C1727.4,396.6 1727.7,389.5 1728.0,383.5 C1728.4,377.6 1728.7,371.1 1729.0,365.7 C1729.3,360.3 1729.7,356.2 1730.0,351.4 C1730.3,346.6 1730.5,341.5 1731.0,337.1 C1731.5,332.7 1732.5,325.2 1733.3,325.2 C1734.1,325.2 1735.1,332.7 1735.7,337.1 C1736.3,341.5 1736.5,346.6 1736.9,351.4 C1737.3,356.2 1737.7,360.9 1738.1,365.7 C1738.5,370.5 1738.9,375.2 1739.3,380.0 C1739.7,384.8 1740.0,391.1 1740.5,394.3 C1741.0,397.5 1741.4,400.4 1742.1,399.0 C1742.8,397.6 1743.7,388.4 1744.5,386.0 C1745.3,383.6 1746.1,383.8 1746.9,384.8 C1747.7,385.8 1748.5,388.3 1749.3,391.9 C1750.1,395.5 1750.7,402.6 1751.7,406.2 C1752.7,409.8 1754.0,410.9 1755.2,413.3 C1756.4,415.7 1757.6,416.9 1758.8,420.5 C1760.0,424.1 1761.0,430.4 1762.4,434.8 C1763.8,439.2 1765.3,442.3 1767.1,446.7 C1768.9,451.1 1771.5,456.6 1773.1,461.0 C1774.7,465.4 1775.3,468.1 1776.7,472.9 C1778.1,477.6 1779.6,484.4 1781.4,489.5 C1783.2,494.6 1785.4,499.8 1787.4,503.8 C1789.4,507.8 1791.1,509.7 1793.3,513.3 C1795.5,516.9 1797.7,521.6 1800.5,525.2 C1803.3,528.8 1807.2,531.6 1810.0,534.8 C1812.8,538.0 1814.7,541.5 1817.1,544.3 C1819.5,547.1 1821.1,549.5 1824.3,551.4 C1827.5,553.3 1832.2,554.9 1836.2,555.7 C1840.2,556.5 1844.1,555.9 1848.1,556.0 C1852.1,556.1 1858.0,556.2 1860.0,556.3 L1860.0,557.5 L1372.8,557.5 Z" fill="#999999" stroke="none"/>
<path d="M1372.8,557.5 C1372.8,554.6 1373.0,546.0 1373.0,540.3 C1373.1,534.6 1373.2,528.8 1373.3,523.1 C1373.3,517.4 1373.3,506.8 1373.5,505.9 C1373.7,505.0 1374.3,513.9 1374.8,518.0 C1375.2,522.0 1375.5,526.3 1376.0,530.0 C1376.5,533.7 1377.0,536.7 1377.5,540.0 C1378.0,543.3 1378.2,547.5 1379.0,550.0 C1379.8,552.5 1379.4,554.0 1382.2,554.7 C1385.0,555.4 1391.2,554.5 1395.7,554.4 C1400.2,554.3 1404.8,554.1 1409.3,554.0 C1413.8,553.9 1418.2,554.6 1422.8,553.7 C1427.4,552.8 1432.7,551.2 1437.1,548.6 C1441.5,546.0 1445.9,542.1 1449.3,538.4 C1452.7,534.7 1455.6,529.9 1457.4,526.2 C1459.2,522.5 1459.1,519.4 1460.0,516.0 C1460.8,512.7 1461.7,510.1 1462.5,505.9 C1463.3,501.7 1463.9,495.7 1464.5,490.6 C1465.2,485.6 1465.9,480.5 1466.6,475.4 C1467.3,470.3 1467.9,465.2 1468.6,460.1 C1469.3,455.1 1470.0,449.7 1470.6,444.9 C1471.2,440.1 1471.5,435.9 1472.0,431.3 C1472.4,426.8 1472.9,422.3 1473.3,417.8 C1473.8,413.2 1474.2,408.7 1474.7,404.2 C1475.2,399.7 1475.6,395.2 1476.1,390.6 C1476.5,386.1 1477.0,381.6 1477.4,377.1 C1477.9,372.5 1478.2,368.3 1478.8,363.5 C1479.4,358.7 1480.1,353.3 1480.8,348.2 C1481.5,343.2 1482.2,338.1 1482.8,333.0 C1483.4,327.9 1483.8,322.8 1484.3,317.8 C1484.9,312.7 1485.4,307.6 1485.9,302.5 C1486.4,297.4 1486.9,292.3 1487.4,287.2 C1487.9,282.2 1488.5,276.8 1488.9,272.0 C1489.3,267.2 1489.4,263.0 1489.6,258.5 C1489.8,254.0 1490.1,249.4 1490.3,244.9 C1490.5,240.4 1490.6,236.7 1491.0,231.4 C1491.4,226.1 1492.0,219.2 1492.5,213.1 C1493.0,206.9 1493.2,199.8 1494.0,194.7 C1494.8,189.6 1495.9,185.4 1497.1,182.5 C1498.3,179.6 1499.8,177.0 1501.1,177.5 C1502.3,178.0 1503.8,182.0 1504.6,185.6 C1505.4,189.2 1505.4,194.9 1506.2,198.8 C1507.0,202.7 1508.5,205.4 1509.3,209.0 C1510.1,212.6 1510.3,216.5 1510.8,220.2 C1511.3,223.9 1511.9,227.0 1512.3,231.4 C1512.7,235.8 1513.0,241.6 1513.3,246.6 C1513.7,251.7 1514.1,256.8 1514.4,261.9 C1514.7,267.0 1515.1,272.1 1515.4,277.1 C1515.7,282.2 1516.1,287.3 1516.4,292.4 C1516.7,297.5 1517.1,302.6 1517.4,307.6 C1517.7,312.7 1518.1,318.1 1518.4,322.9 C1518.7,327.7 1518.9,331.9 1519.1,336.4 C1519.3,340.9 1519.6,345.5 1519.8,350.0 C1520.0,354.5 1520.1,358.7 1520.5,363.5 C1520.9,368.3 1521.5,373.7 1522.0,378.8 C1522.5,383.8 1523.0,389.2 1523.5,394.0 C1524.0,398.8 1524.4,403.0 1524.9,407.6 C1525.3,412.1 1525.8,416.6 1526.2,421.1 C1526.7,425.7 1527.0,429.9 1527.6,434.7 C1528.2,439.5 1528.9,444.9 1529.6,449.9 C1530.3,455.0 1530.9,460.1 1531.6,465.2 C1532.3,470.3 1533.0,475.4 1533.7,480.4 C1534.3,485.5 1534.9,491.5 1535.7,495.7 C1536.5,499.9 1537.4,502.5 1538.2,505.9 C1539.1,509.3 1539.7,512.9 1540.8,516.1 C1541.9,519.3 1543.5,522.2 1544.8,525.2 C1546.2,528.3 1546.5,530.8 1548.9,534.4 C1551.3,538.0 1554.7,543.5 1559.1,546.6 C1563.5,549.7 1571.0,551.5 1575.4,552.7 C1579.8,553.9 1582.2,553.4 1585.6,553.7 C1588.9,554.0 1591.5,554.5 1595.7,554.7 C1599.9,554.9 1605.5,554.9 1610.5,555.0 C1615.4,555.1 1620.3,555.3 1625.2,555.4 C1630.2,555.5 1636.2,555.6 1640.0,555.7 C1643.8,555.8 1645.2,557.2 1648.1,555.7 C1651.0,554.2 1654.8,550.6 1657.6,546.7 C1660.4,542.8 1662.8,538.0 1664.8,532.4 C1666.8,526.8 1668.5,518.9 1669.5,513.3 C1670.5,507.7 1670.5,503.8 1671.0,499.0 C1671.4,494.3 1672.1,489.8 1672.4,484.8 C1672.7,479.8 1672.8,474.2 1673.0,468.9 C1673.2,463.6 1673.5,458.3 1673.7,453.0 C1673.9,447.7 1674.1,443.1 1674.3,437.1 C1674.5,431.1 1674.7,423.9 1674.9,417.3 C1675.1,410.7 1675.4,404.0 1675.6,397.4 C1675.8,390.8 1676.0,384.2 1676.2,377.6 C1676.4,371.0 1676.6,364.4 1676.8,357.8 C1677.0,351.2 1677.1,344.5 1677.3,337.9 C1677.5,331.3 1677.7,324.7 1677.9,318.1 C1678.1,311.5 1678.3,304.9 1678.4,298.3 C1678.6,291.7 1678.8,285.0 1679.0,278.4 C1679.1,271.8 1679.3,264.9 1679.5,258.6 C1679.7,252.3 1679.8,246.7 1680.0,240.7 C1680.1,234.8 1680.3,228.8 1680.5,222.9 C1680.6,216.9 1680.8,210.9 1680.9,205.0 C1681.1,199.0 1681.2,193.1 1681.4,187.1 C1681.6,181.1 1681.8,175.2 1682.0,169.2 C1682.2,163.3 1682.4,157.3 1682.6,151.4 C1682.8,145.5 1683.0,139.5 1683.2,133.6 C1683.4,127.6 1683.3,121.6 1683.8,115.7 C1684.3,109.8 1685.6,98.4 1686.2,97.9 C1686.8,97.4 1687.0,107.8 1687.4,112.8 C1687.8,117.7 1688.3,122.1 1688.6,127.6 C1688.9,133.0 1688.9,139.5 1689.1,145.4 C1689.2,151.4 1689.4,157.4 1689.5,163.3 C1689.7,169.2 1689.9,175.2 1690.0,181.2 C1690.2,187.1 1690.4,193.0 1690.5,199.0 C1690.6,205.0 1690.8,210.9 1690.9,216.9 C1691.0,222.8 1691.2,228.8 1691.3,234.8 C1691.4,240.7 1691.6,246.7 1691.7,252.6 C1691.8,258.6 1692.0,264.5 1692.1,270.5 C1692.2,276.5 1692.3,282.4 1692.4,288.4 C1692.5,294.3 1692.6,300.2 1692.7,306.2 C1692.8,312.1 1692.9,318.1 1693.0,324.0 C1693.1,330.0 1693.2,336.3 1693.3,341.9 C1693.4,347.5 1693.6,352.5 1693.7,357.8 C1693.8,363.1 1694.0,368.3 1694.1,373.6 C1694.2,378.9 1694.2,383.9 1694.5,389.5 C1694.8,395.1 1695.3,401.4 1695.7,407.4 C1696.1,413.3 1696.5,419.6 1696.9,425.2 C1697.3,430.8 1697.7,435.5 1698.1,440.7 C1698.5,445.9 1698.8,451.6 1699.3,456.2 C1699.8,460.8 1700.5,464.1 1701.1,468.1 C1701.7,472.1 1702.0,481.2 1702.9,480.0 C1703.8,478.8 1705.7,466.8 1706.4,461.0 C1707.1,455.2 1706.8,450.4 1707.0,445.1 C1707.2,439.8 1707.5,434.5 1707.7,429.2 C1707.9,423.9 1708.1,419.3 1708.3,413.3 C1708.5,407.3 1708.7,400.1 1708.9,393.5 C1709.1,386.9 1709.2,380.2 1709.4,373.6 C1709.6,367.0 1709.8,360.4 1710.0,353.8 C1710.2,347.2 1710.4,340.6 1710.6,334.0 C1710.8,327.4 1711.1,320.7 1711.3,314.1 C1711.5,307.5 1711.7,300.6 1711.9,294.3 C1712.1,288.0 1712.5,282.4 1712.8,276.5 C1713.0,270.5 1713.3,263.6 1713.6,258.6 C1713.9,253.6 1714.2,250.7 1714.5,246.7 C1714.9,242.7 1715.1,234.0 1715.5,234.8 C1715.9,235.6 1716.7,246.2 1717.1,251.4 C1717.5,256.6 1717.5,260.9 1717.7,265.7 C1717.9,270.5 1718.2,275.2 1718.4,280.0 C1718.6,284.8 1718.8,289.3 1719.0,294.3 C1719.2,299.3 1719.4,304.9 1719.6,310.2 C1719.8,315.5 1719.9,320.7 1720.1,326.0 C1720.3,331.3 1720.5,336.6 1720.7,341.9 C1720.9,347.2 1721.1,352.5 1721.3,357.8 C1721.5,363.1 1721.6,368.3 1721.8,373.6 C1722.0,378.9 1722.1,384.1 1722.4,389.5 C1722.7,394.9 1723.2,400.6 1723.6,406.2 C1724.0,411.8 1724.4,421.9 1724.8,422.9 C1725.2,423.9 1725.6,415.7 1725.9,412.1 C1726.3,408.6 1726.8,406.2 1727.1,401.4 C1727.4,396.6 1727.7,389.5 1728.0,383.5 C1728.4,377.6 1728.7,371.1 1729.0,365.7 C1729.3,360.3 1729.7,356.2 1730.0,351.4 C1730.3,346.6 1730.5,341.5 1731.0,337.1 C1731.5,332.7 1732.5,325.2 1733.3,325.2 C1734.1,325.2 1735.1,332.7 1735.7,337.1 C1736.3,341.5 1736.5,346.6 1736.9,351.4 C1737.3,356.2 1737.7,360.9 1738.1,365.7 C1738.5,370.5 1738.9,375.2 1739.3,380.0 C1739.7,384.8 1740.0,391.1 1740.5,394.3 C1741.0,397.5 1741.4,400.4 1742.1,399.0 C1742.8,397.6 1743.7,388.4 1744.5,386.0 C1745.3,383.6 1746.1,383.8 1746.9,384.8 C1747.7,385.8 1748.5,388.3 1749.3,391.9 C1750.1,395.5 1750.7,402.6 1751.7,406.2 C1752.7,409.8 1754.0,410.9 1755.2,413.3 C1756.4,415.7 1757.6,416.9 1758.8,420.5 C1760.0,424.1 1761.0,430.4 1762.4,434.8 C1763.8,439.2 1765.3,442.3 1767.1,446.7 C1768.9,451.1 1771.5,456.6 1773.1,461.0 C1774.7,465.4 1775.3,468.1 1776.7,472.9 C1778.1,477.6 1779.6,484.4 1781.4,489.5 C1783.2,494.6 1785.4,499.8 1787.4,503.8 C1789.4,507.8 1791.1,509.7 1793.3,513.3 C1795.5,516.9 1797.7,521.6 1800.5,525.2 C1803.3,528.8 1807.2,531.6 1810.0,534.8 C1812.8,538.0 1814.7,541.5 1817.1,544.3 C1819.5,547.1 1821.1,549.5 1824.3,551.4 C1827.5,553.3 1832.2,554.9 1836.2,555.7 C1840.2,556.5 1844.1,555.9 1848.1,556.0 C1852.1,556.1 1858.0,556.2 1860.0,556.3" fill="none" stroke="#000" stroke-width="2.7" stroke-linejoin="round"/>
<rect x="1372.8" y="44.4" width="514.9" height="513.1" fill="none" stroke="#000" stroke-width="1.8"/>
<line x1="1361.30" y1="557.50" x2="1372.80" y2="557.50" stroke="#000" stroke-width="1.8" stroke-linecap="butt"/>
<line x1="1367.00" y1="537.76" x2="1372.80" y2="537.76" stroke="#000" stroke-width="1.8" stroke-linecap="butt"/>
<line x1="1367.00" y1="518.02" x2="1372.80" y2="518.02" stroke="#000" stroke-width="1.8" stroke-linecap="butt"/>
<line x1="1367.00" y1="498.28" x2="1372.80" y2="498.28" stroke="#000" stroke-width="1.8" stroke-linecap="butt"/>
<line x1="1367.00" y1="478.54" x2="1372.80" y2="478.54" stroke="#000" stroke-width="1.8" stroke-linecap="butt"/>
<line x1="1361.30" y1="458.80" x2="1372.80" y2="458.80" stroke="#000" stroke-width="1.8" stroke-linecap="butt"/>
<line x1="1367.00" y1="439.06" x2="1372.80" y2="439.06" stroke="#000" stroke-width="1.8" stroke-linecap="butt"/>
<line x1="1367.00" y1="419.32" x2="1372.80" y2="419.32" stroke="#000" stroke-width="1.8" stroke-linecap="butt"/>
<line x1="1367.00" y1="399.58" x2="1372.80" y2="399.58" stroke="#000" stroke-width="1.8" stroke-linecap="butt"/>
<line x1="1367.00" y1="379.84" x2="1372.80" y2="379.84" stroke="#000" stroke-width="1.8" stroke-linecap="butt"/>
<line x1="1361.30" y1="360.10" x2="1372.80" y2="360.10" stroke="#000" stroke-width="1.8" stroke-linecap="butt"/>
<line x1="1367.00" y1="340.36" x2="1372.80" y2="340.36" stroke="#000" stroke-width="1.8" stroke-linecap="butt"/>
<line x1="1367.00" y1="320.62" x2="1372.80" y2="320.62" stroke="#000" stroke-width="1.8" stroke-linecap="butt"/>
<line x1="1367.00" y1="300.88" x2="1372.80" y2="300.88" stroke="#000" stroke-width="1.8" stroke-linecap="butt"/>
<line x1="1367.00" y1="281.14" x2="1372.80" y2="281.14" stroke="#000" stroke-width="1.8" stroke-linecap="butt"/>
<line x1="1361.30" y1="261.40" x2="1372.80" y2="261.40" stroke="#000" stroke-width="1.8" stroke-linecap="butt"/>
<line x1="1367.00" y1="241.66" x2="1372.80" y2="241.66" stroke="#000" stroke-width="1.8" stroke-linecap="butt"/>
<line x1="1367.00" y1="221.92" x2="1372.80" y2="221.92" stroke="#000" stroke-width="1.8" stroke-linecap="butt"/>
<line x1="1367.00" y1="202.18" x2="1372.80" y2="202.18" stroke="#000" stroke-width="1.8" stroke-linecap="butt"/>
<line x1="1367.00" y1="182.44" x2="1372.80" y2="182.44" stroke="#000" stroke-width="1.8" stroke-linecap="butt"/>
<line x1="1361.30" y1="162.70" x2="1372.80" y2="162.70" stroke="#000" stroke-width="1.8" stroke-linecap="butt"/>
<line x1="1367.00" y1="142.96" x2="1372.80" y2="142.96" stroke="#000" stroke-width="1.8" stroke-linecap="butt"/>
<line x1="1367.00" y1="123.22" x2="1372.80" y2="123.22" stroke="#000" stroke-width="1.8" stroke-linecap="butt"/>
<line x1="1367.00" y1="103.48" x2="1372.80" y2="103.48" stroke="#000" stroke-width="1.8" stroke-linecap="butt"/>
<line x1="1367.00" y1="83.74" x2="1372.80" y2="83.74" stroke="#000" stroke-width="1.8" stroke-linecap="butt"/>
<line x1="1361.30" y1="64.00" x2="1372.80" y2="64.00" stroke="#000" stroke-width="1.8" stroke-linecap="butt"/>
<line x1="1361.30" y1="44.40" x2="1372.80" y2="44.40" stroke="#000" stroke-width="1.8" stroke-linecap="butt"/>
<line x1="1373.00" y1="557.50" x2="1373.00" y2="569.00" stroke="#000" stroke-width="1.8" stroke-linecap="butt"/>
<line x1="1402.29" y1="557.50" x2="1402.29" y2="563.30" stroke="#000" stroke-width="1.8" stroke-linecap="butt"/>
<line x1="1419.42" y1="557.50" x2="1419.42" y2="563.30" stroke="#000" stroke-width="1.8" stroke-linecap="butt"/>
<line x1="1431.58" y1="557.50" x2="1431.58" y2="563.30" stroke="#000" stroke-width="1.8" stroke-linecap="butt"/>
<line x1="1441.01" y1="557.50" x2="1441.01" y2="563.30" stroke="#000" stroke-width="1.8" stroke-linecap="butt"/>
<line x1="1448.71" y1="557.50" x2="1448.71" y2="563.30" stroke="#000" stroke-width="1.8" stroke-linecap="butt"/>
<line x1="1455.23" y1="557.50" x2="1455.23" y2="563.30" stroke="#000" stroke-width="1.8" stroke-linecap="butt"/>
<line x1="1460.87" y1="557.50" x2="1460.87" y2="563.30" stroke="#000" stroke-width="1.8" stroke-linecap="butt"/>
<line x1="1465.85" y1="557.50" x2="1465.85" y2="563.30" stroke="#000" stroke-width="1.8" stroke-linecap="butt"/>
<line x1="1470.30" y1="557.50" x2="1470.30" y2="569.00" stroke="#000" stroke-width="1.8" stroke-linecap="butt"/>
<line x1="1500.25" y1="557.50" x2="1500.25" y2="563.30" stroke="#000" stroke-width="1.8" stroke-linecap="butt"/>
<line x1="1517.77" y1="557.50" x2="1517.77" y2="563.30" stroke="#000" stroke-width="1.8" stroke-linecap="butt"/>
<line x1="1530.20" y1="557.50" x2="1530.20" y2="563.30" stroke="#000" stroke-width="1.8" stroke-linecap="butt"/>
<line x1="1539.85" y1="557.50" x2="1539.85" y2="563.30" stroke="#000" stroke-width="1.8" stroke-linecap="butt"/>
<line x1="1547.73" y1="557.50" x2="1547.73" y2="563.30" stroke="#000" stroke-width="1.8" stroke-linecap="butt"/>
<line x1="1554.39" y1="557.50" x2="1554.39" y2="563.30" stroke="#000" stroke-width="1.8" stroke-linecap="butt"/>
<line x1="1560.16" y1="557.50" x2="1560.16" y2="563.30" stroke="#000" stroke-width="1.8" stroke-linecap="butt"/>
<line x1="1565.25" y1="557.50" x2="1565.25" y2="563.30" stroke="#000" stroke-width="1.8" stroke-linecap="butt"/>
<line x1="1569.80" y1="557.50" x2="1569.80" y2="569.00" stroke="#000" stroke-width="1.8" stroke-linecap="butt"/>
<line x1="1598.55" y1="557.50" x2="1598.55" y2="563.30" stroke="#000" stroke-width="1.8" stroke-linecap="butt"/>
<line x1="1615.37" y1="557.50" x2="1615.37" y2="563.30" stroke="#000" stroke-width="1.8" stroke-linecap="butt"/>
<line x1="1627.30" y1="557.50" x2="1627.30" y2="563.30" stroke="#000" stroke-width="1.8" stroke-linecap="butt"/>
<line x1="1636.55" y1="557.50" x2="1636.55" y2="563.30" stroke="#000" stroke-width="1.8" stroke-linecap="butt"/>
<line x1="1644.11" y1="557.50" x2="1644.11" y2="563.30" stroke="#000" stroke-width="1.8" stroke-linecap="butt"/>
<line x1="1650.51" y1="557.50" x2="1650.51" y2="563.30" stroke="#000" stroke-width="1.8" stroke-linecap="butt"/>
<line x1="1656.05" y1="557.50" x2="1656.05" y2="563.30" stroke="#000" stroke-width="1.8" stroke-linecap="butt"/>
<line x1="1660.93" y1="557.50" x2="1660.93" y2="563.30" stroke="#000" stroke-width="1.8" stroke-linecap="butt"/>
<line x1="1665.30" y1="557.50" x2="1665.30" y2="569.00" stroke="#000" stroke-width="1.8" stroke-linecap="butt"/>
<line x1="1695.19" y1="557.50" x2="1695.19" y2="563.30" stroke="#000" stroke-width="1.8" stroke-linecap="butt"/>
<line x1="1712.68" y1="557.50" x2="1712.68" y2="563.30" stroke="#000" stroke-width="1.8" stroke-linecap="butt"/>
<line x1="1725.08" y1="557.50" x2="1725.08" y2="563.30" stroke="#000" stroke-width="1.8" stroke-linecap="butt"/>
<line x1="1734.71" y1="557.50" x2="1734.71" y2="563.30" stroke="#000" stroke-width="1.8" stroke-linecap="butt"/>
<line x1="1742.57" y1="557.50" x2="1742.57" y2="563.30" stroke="#000" stroke-width="1.8" stroke-linecap="butt"/>
<line x1="1749.22" y1="557.50" x2="1749.22" y2="563.30" stroke="#000" stroke-width="1.8" stroke-linecap="butt"/>
<line x1="1754.98" y1="557.50" x2="1754.98" y2="563.30" stroke="#000" stroke-width="1.8" stroke-linecap="butt"/>
<line x1="1760.06" y1="557.50" x2="1760.06" y2="563.30" stroke="#000" stroke-width="1.8" stroke-linecap="butt"/>
<line x1="1764.60" y1="557.50" x2="1764.60" y2="569.00" stroke="#000" stroke-width="1.8" stroke-linecap="butt"/>
<line x1="1794.28" y1="557.50" x2="1794.28" y2="563.30" stroke="#000" stroke-width="1.8" stroke-linecap="butt"/>
<line x1="1811.64" y1="557.50" x2="1811.64" y2="563.30" stroke="#000" stroke-width="1.8" stroke-linecap="butt"/>
<line x1="1823.96" y1="557.50" x2="1823.96" y2="563.30" stroke="#000" stroke-width="1.8" stroke-linecap="butt"/>
<line x1="1833.52" y1="557.50" x2="1833.52" y2="563.30" stroke="#000" stroke-width="1.8" stroke-linecap="butt"/>
<line x1="1841.33" y1="557.50" x2="1841.33" y2="563.30" stroke="#000" stroke-width="1.8" stroke-linecap="butt"/>
<line x1="1847.93" y1="557.50" x2="1847.93" y2="563.30" stroke="#000" stroke-width="1.8" stroke-linecap="butt"/>
<line x1="1853.64" y1="557.50" x2="1853.64" y2="563.30" stroke="#000" stroke-width="1.8" stroke-linecap="butt"/>
<line x1="1858.69" y1="557.50" x2="1858.69" y2="563.30" stroke="#000" stroke-width="1.8" stroke-linecap="butt"/>
<line x1="1863.20" y1="557.50" x2="1863.20" y2="569.00" stroke="#000" stroke-width="1.8" stroke-linecap="butt"/>
<text x="1371.8" y="600.5" font-size="32" text-anchor="middle">10<tspan font-size="19" dy="-11">2</tspan></text>
<text x="1469.1" y="600.5" font-size="32" text-anchor="middle">10<tspan font-size="19" dy="-11">3</tspan></text>
<text x="1568.6" y="600.5" font-size="32" text-anchor="middle">10<tspan font-size="19" dy="-11">4</tspan></text>
<text x="1664.1" y="600.5" font-size="32" text-anchor="middle">10<tspan font-size="19" dy="-11">5</tspan></text>
<text x="1763.4" y="600.5" font-size="32" text-anchor="middle">10<tspan font-size="19" dy="-11">6</tspan></text>
<text x="1862.0" y="600.5" font-size="32" text-anchor="middle">10<tspan font-size="19" dy="-11">7</tspan></text>
<line x1="1634.60" y1="459.00" x2="1866.00" y2="459.00" stroke="#000" stroke-width="1.8" stroke-linecap="butt"/>
<line x1="1634.60" y1="447.70" x2="1634.60" y2="470.30" stroke="#000" stroke-width="1.8" stroke-linecap="butt"/>
<line x1="1866.00" y1="447.70" x2="1866.00" y2="470.30" stroke="#000" stroke-width="1.8" stroke-linecap="butt"/>
<text x="105.3" y="570.8" font-size="32.5" text-anchor="end" font-weight="normal" font-style="normal" >0</text>
<text x="105.3" y="484.1" font-size="32.5" text-anchor="end" font-weight="normal" font-style="normal" >50</text>
<text x="105.3" y="397.4" font-size="32.5" text-anchor="end" font-weight="normal" font-style="normal" >100</text>
<text x="105.3" y="310.6" font-size="32.5" text-anchor="end" font-weight="normal" font-style="normal" >150</text>
<text x="105.3" y="223.9" font-size="32.5" text-anchor="end" font-weight="normal" font-style="normal" >200</text>
<text x="105.3" y="137.2" font-size="32.5" text-anchor="end" font-weight="normal" font-style="normal" >250</text>
<text transform="translate(378.90000000000003,23.0) scale(1,1.05)" font-size="33" text-anchor="middle" font-weight="bold">PBS</text>
<text transform="translate(1003.0,23.0) scale(1,1.05)" font-size="33" text-anchor="middle" font-weight="bold">siNC</text>
<text transform="translate(1625.6,23.0) scale(1,1.05)" font-size="33" text-anchor="middle" font-weight="bold">siPDCD4</text>
<text x="6.6" y="83.2" font-size="50" text-anchor="start" font-weight="bold" font-style="normal" >A</text>
<line x1="33.60" y1="135.00" x2="33.60" y2="495.20" stroke="#000" stroke-width="2.0" stroke-linecap="butt"/>
<path d="M33.6,112.6 L43.1,137.6 L24.1,137.6 Z" fill="#000"/>
<text transform="translate(47.3,568.4) rotate(-90)" font-size="33">Cont</text>
<text x="0.0" y="641.5" font-size="33" text-anchor="start" font-weight="normal" font-style="normal" >FITC</text>
<line x1="92.00" y1="633.20" x2="1866.00" y2="633.20" stroke="#000" stroke-width="2.0" stroke-linecap="butt"/>
<path d="M1889.5,633.4 L1863,622.8 L1863,644 Z" fill="#000"/>
<text x="7.2" y="765.7" font-size="50" text-anchor="start" font-weight="bold" font-style="normal" >B</text>
<rect x="149.6" y="739.1" width="765.6" height="566.2" fill="none" stroke="#000" stroke-width="1.6"/>
<line x1="138.10" y1="1305.30" x2="149.60" y2="1305.30" stroke="#000" stroke-width="1.6" stroke-linecap="butt"/>
<text x="124.3" y="1318.3" font-size="32.5" text-anchor="end" font-weight="normal" font-style="normal" >50</text>
<line x1="138.10" y1="1203.15" x2="149.60" y2="1203.15" stroke="#000" stroke-width="1.6" stroke-linecap="butt"/>
<text x="124.3" y="1216.1" font-size="32.5" text-anchor="end" font-weight="normal" font-style="normal" >55</text>
<line x1="138.10" y1="1101.00" x2="149.60" y2="1101.00" stroke="#000" stroke-width="1.6" stroke-linecap="butt"/>
<text x="124.3" y="1114.0" font-size="32.5" text-anchor="end" font-weight="normal" font-style="normal" >60</text>
<line x1="138.10" y1="998.85" x2="149.60" y2="998.85" stroke="#000" stroke-width="1.6" stroke-linecap="butt"/>
<text x="124.3" y="1011.8" font-size="32.5" text-anchor="end" font-weight="normal" font-style="normal" >65</text>
<line x1="138.10" y1="896.70" x2="149.60" y2="896.70" stroke="#000" stroke-width="1.6" stroke-linecap="butt"/>
<text x="124.3" y="909.7" font-size="32.5" text-anchor="end" font-weight="normal" font-style="normal" >70</text>
<line x1="138.10" y1="794.55" x2="149.60" y2="794.55" stroke="#000" stroke-width="1.6" stroke-linecap="butt"/>
<text x="124.3" y="807.5" font-size="32.5" text-anchor="end" font-weight="normal" font-style="normal" >75</text>
<line x1="275.70" y1="1305.30" x2="275.70" y2="1316.30" stroke="#000" stroke-width="1.6" stroke-linecap="butt"/>
<line x1="532.20" y1="1305.30" x2="532.20" y2="1316.30" stroke="#000" stroke-width="1.6" stroke-linecap="butt"/>
<line x1="788.80" y1="1305.30" x2="788.80" y2="1316.30" stroke="#000" stroke-width="1.6" stroke-linecap="butt"/>
<text x="274.3" y="1355.8" font-size="33" text-anchor="middle" font-weight="normal" font-style="normal" >PBS</text>
<text x="511.1" y="1355.8" font-size="33" text-anchor="middle" font-weight="normal" font-style="normal" >siNC</text>
<text x="749.2" y="1355.8" font-size="33" text-anchor="middle" font-weight="normal" font-style="normal" >siPDCD4</text>
<text transform="translate(25.8,1097.6) rotate(-90)" font-size="33" font-weight="bold">FITC<tspan font-size="20" dy="-12">+</tspan><tspan dy="12"> cell</tspan></text>
<text x="608.2" y="804.4" font-size="33.3" font-style="italic">p</text>
<text x="643.3" y="804.4" font-size="33.3" text-anchor="middle">=</text>
<text x="736.5" y="804.4" font-size="33.3" text-anchor="end">0.139</text>
<path d="M543,891 L543,818.4 L793.1,818.4 L793.1,847.6" fill="none" stroke="#000" stroke-width="1.6"/>
<path d="M275.7,1056.6 L289.1,1078.8 L262.3,1078.8 Z" fill="#000"/>
<path d="M275.7,1101.8 L289.1,1124.5 L262.3,1124.5 Z" fill="#000"/>
<path d="M275.7,1147.1 L289.1,1169.3 L262.3,1169.3 Z" fill="#000"/>
<path d="M275.7,1188.9 L289.1,1211.3 L262.3,1211.3 Z" fill="#000"/>
<line x1="193.40" y1="1134.10" x2="358.00" y2="1134.10" stroke="#000" stroke-width="1.6" stroke-linecap="butt"/>
<line x1="233.50" y1="1105.10" x2="317.90" y2="1105.10" stroke="#000" stroke-width="1.6" stroke-linecap="butt"/>
<line x1="233.50" y1="1162.90" x2="317.90" y2="1162.90" stroke="#000" stroke-width="1.6" stroke-linecap="butt"/>
<line x1="275.70" y1="1105.10" x2="275.70" y2="1162.90" stroke="#000" stroke-width="1.6" stroke-linecap="butt"/>
<circle cx="500.9" cy="1217.2" r="11.1" fill="none" stroke="#000" stroke-width="1.5"/>
<circle cx="532.2" cy="1199.9" r="11.1" fill="none" stroke="#000" stroke-width="1.5"/>
<circle cx="532.2" cy="1237.2" r="11.1" fill="none" stroke="#000" stroke-width="1.5"/>
<circle cx="563.4" cy="1234.4" r="11.1" fill="none" stroke="#000" stroke-width="1.5"/>
<line x1="449.90" y1="1223.20" x2="614.70" y2="1223.20" stroke="#000" stroke-width="1.6" stroke-linecap="butt"/>
<line x1="490.30" y1="1214.70" x2="574.30" y2="1214.70" stroke="#000" stroke-width="1.6" stroke-linecap="butt"/>
<line x1="490.30" y1="1232.00" x2="574.30" y2="1232.00" stroke="#000" stroke-width="1.6" stroke-linecap="butt"/>
<line x1="532.30" y1="1214.70" x2="532.30" y2="1232.00" stroke="#000" stroke-width="1.6" stroke-linecap="butt"/>
<rect x="778.0" y="908.8" width="21.6" height="21.6" fill="none" stroke="#000" stroke-width="1.5"/>
<rect x="746.2" y="1148.5" width="21.6" height="21.6" fill="none" stroke="#000" stroke-width="1.5"/>
<rect x="778.1" y="1155.8" width="21.6" height="21.6" fill="none" stroke="#000" stroke-width="1.5"/>
<rect x="778.1" y="1188.6" width="21.6" height="21.6" fill="none" stroke="#000" stroke-width="1.5"/>
<line x1="706.40" y1="1111.50" x2="871.00" y2="1111.50" stroke="#000" stroke-width="1.6" stroke-linecap="butt"/>
<line x1="746.70" y1="1046.70" x2="830.70" y2="1046.70" stroke="#000" stroke-width="1.6" stroke-linecap="butt"/>
<line x1="746.70" y1="1176.90" x2="830.70" y2="1176.90" stroke="#000" stroke-width="1.6" stroke-linecap="butt"/>
<line x1="788.70" y1="1046.70" x2="788.70" y2="1176.90" stroke="#000" stroke-width="1.6" stroke-linecap="butt"/>
<text x="980.9" y="762.6" font-size="51" text-anchor="start" font-weight="bold" font-style="normal" >C</text>
<rect x="1181.6" y="788.0" width="708.7" height="523.9" fill="none" stroke="#000" stroke-width="1.6"/>
<line x1="1171.10" y1="1311.90" x2="1181.60" y2="1311.90" stroke="#000" stroke-width="1.6" stroke-linecap="butt"/>
<text x="1162.3" y="1319.6" font-size="32.5" text-anchor="end" font-weight="normal" font-style="normal" >400000</text>
<line x1="1171.10" y1="1193.85" x2="1181.60" y2="1193.85" stroke="#000" stroke-width="1.6" stroke-linecap="butt"/>
<text x="1162.3" y="1201.6" font-size="32.5" text-anchor="end" font-weight="normal" font-style="normal" >500000</text>
<line x1="1171.10" y1="1075.80" x2="1181.60" y2="1075.80" stroke="#000" stroke-width="1.6" stroke-linecap="butt"/>
<text x="1162.3" y="1083.5" font-size="32.5" text-anchor="end" font-weight="normal" font-style="normal" >600000</text>
<line x1="1171.10" y1="957.75" x2="1181.60" y2="957.75" stroke="#000" stroke-width="1.6" stroke-linecap="butt"/>
<text x="1162.3" y="965.5" font-size="32.5" text-anchor="end" font-weight="normal" font-style="normal" >700000</text>
<line x1="1171.10" y1="839.70" x2="1181.60" y2="839.70" stroke="#000" stroke-width="1.6" stroke-linecap="butt"/>
<text x="1162.3" y="847.4" font-size="32.5" text-anchor="end" font-weight="normal" font-style="normal" >800000</text>
<line x1="1298.20" y1="1311.90" x2="1298.20" y2="1322.40" stroke="#000" stroke-width="1.6" stroke-linecap="butt"/>
<line x1="1536.10" y1="1311.90" x2="1536.10" y2="1322.40" stroke="#000" stroke-width="1.6" stroke-linecap="butt"/>
<line x1="1772.90" y1="1311.90" x2="1772.90" y2="1322.40" stroke="#000" stroke-width="1.6" stroke-linecap="butt"/>
<text x="1298.2" y="1355.8" font-size="33" text-anchor="middle" font-weight="normal" font-style="normal" >PBS</text>
<text x="1537.2" y="1355.8" font-size="33" text-anchor="middle" font-weight="normal" font-style="normal" >siNC</text>
<text x="1774.7" y="1355.8" font-size="33" text-anchor="middle" font-weight="normal" font-style="normal" >siPDCD4</text>
<text transform="translate(1001.7,1153.2) rotate(-90)" font-size="33" font-weight="bold">Mean of FITC</text>
<text x="1602.8" y="815.3" font-size="33.3" font-style="italic">p</text>
<text x="1637.1" y="815.3" font-size="33.3" text-anchor="middle">=</text>
<text x="1729.9" y="815.3" font-size="33.3" text-anchor="end">0.234</text>
<path d="M1545.7,888.7 L1545.7,821.7 L1777.2,821.7 L1777.2,848.1" fill="none" stroke="#000" stroke-width="1.6"/>
<circle cx="1298.4" cy="1086.4" r="10.2" fill="none" stroke="#000" stroke-width="1.5"/>
<circle cx="1269.6" cy="1110.0" r="10.2" fill="none" stroke="#000" stroke-width="1.5"/>
<circle cx="1298.4" cy="1115.6" r="10.2" fill="none" stroke="#000" stroke-width="1.5"/>
<circle cx="1298.4" cy="1182.7" r="10.2" fill="none" stroke="#000" stroke-width="1.5"/>
<line x1="1222.20" y1="1123.40" x2="1374.40" y2="1123.40" stroke="#000" stroke-width="1.6" stroke-linecap="butt"/>
<line x1="1259.30" y1="1101.80" x2="1337.30" y2="1101.80" stroke="#000" stroke-width="1.6" stroke-linecap="butt"/>
<line x1="1259.30" y1="1145.20" x2="1337.30" y2="1145.20" stroke="#000" stroke-width="1.6" stroke-linecap="butt"/>
<line x1="1298.30" y1="1101.80" x2="1298.30" y2="1145.20" stroke="#000" stroke-width="1.6" stroke-linecap="butt"/>
<rect x="1497.1" y="1121.3" width="20" height="20" fill="none" stroke="#000" stroke-width="1.5"/>
<rect x="1525.9" y="1146.6" width="20" height="20" fill="none" stroke="#000" stroke-width="1.5"/>
<rect x="1525.9" y="1187.6" width="20" height="20" fill="none" stroke="#000" stroke-width="1.5"/>
<rect x="1554.7" y="1182.6" width="20" height="20" fill="none" stroke="#000" stroke-width="1.5"/>
<line x1="1459.50" y1="1169.80" x2="1612.50" y2="1169.80" stroke="#000" stroke-width="1.6" stroke-linecap="butt"/>
<line x1="1496.80" y1="1153.80" x2="1575.20" y2="1153.80" stroke="#000" stroke-width="1.6" stroke-linecap="butt"/>
<line x1="1496.80" y1="1185.20" x2="1575.20" y2="1185.20" stroke="#000" stroke-width="1.6" stroke-linecap="butt"/>
<line x1="1536.00" y1="1153.80" x2="1536.00" y2="1185.20" stroke="#000" stroke-width="1.6" stroke-linecap="butt"/>
<path d="M1773.0,883.0 L1785.4,904.2 L1760.6,904.2 Z" fill="#000"/>
<path d="M1744.4,1109.8 L1756.8,1130.6 L1732.0,1130.6 Z" fill="#000"/>
<path d="M1772.9,1117.3 L1785.3,1137.3 L1760.5,1137.3 Z" fill="#000"/>
<path d="M1772.9,1174.6 L1785.3,1195.9 L1760.5,1195.9 Z" fill="#000"/>
<line x1="1696.70" y1="1082.50" x2="1849.30" y2="1082.50" stroke="#000" stroke-width="1.6" stroke-linecap="butt"/>
<line x1="1734.00" y1="1017.20" x2="1812.00" y2="1017.20" stroke="#000" stroke-width="1.6" stroke-linecap="butt"/>
<line x1="1734.00" y1="1147.50" x2="1812.00" y2="1147.50" stroke="#000" stroke-width="1.6" stroke-linecap="butt"/>
<line x1="1773.00" y1="1017.20" x2="1773.00" y2="1147.50" stroke="#000" stroke-width="1.6" stroke-linecap="butt"/>
<text x="5.4" y="1533.4" font-size="50" text-anchor="start" font-weight="bold" font-style="normal" >D</text>
<text x="222.1" y="1552.8" font-size="33" text-anchor="middle" font-weight="normal" font-style="normal" >PBS</text>
<text x="505.9" y="1552.8" font-size="33" text-anchor="middle" font-weight="normal" font-style="normal" >siNC</text>
<text x="770.3" y="1552.8" font-size="33" text-anchor="middle" font-weight="normal" font-style="normal" >siPDCD4</text>
<text transform="translate(26.4,1730.2) rotate(-90)" font-size="32.3">Vinculin</text>
<text transform="translate(26.4,1935.1) rotate(-90)" font-size="32.5">PDCD4</text>
<defs>
<filter id="bc1" x="-20%" y="-60%" width="140%" height="220%"><feGaussianBlur stdDeviation="5.5"/></filter>
<filter id="bh1" x="-30%" y="-100%" width="160%" height="300%"><feGaussianBlur stdDeviation="14"/></filter>
<filter id="bc2" x="-20%" y="-60%" width="140%" height="220%"><feGaussianBlur stdDeviation="8.5"/></filter>
<filter id="bs" x="-100%" y="-10%" width="300%" height="120%"><feGaussianBlur stdDeviation="18 2"/></filter>
<filter id="bc3" x="-50%" y="-100%" width="200%" height="300%"><feGaussianBlur stdDeviation="9"/></filter>
<filter id="bh2" x="-30%" y="-100%" width="160%" height="300%"><feGaussianBlur stdDeviation="12 17"/></filter>
<linearGradient id="bg1" x1="0" y1="0" x2="0" y2="1"><stop offset="0" stop-color="#cccccc"/><stop offset="0.45" stop-color="#c2c2c2"/><stop offset="1" stop-color="#b6b6b6"/></linearGradient>
<linearGradient id="hx1" x1="0" y1="0" x2="1" y2="0"><stop offset="0" stop-color="#000" stop-opacity="0"/><stop offset="0.4" stop-color="#000" stop-opacity="0.03"/><stop offset="1" stop-color="#000" stop-opacity="0.1"/></linearGradient>
<linearGradient id="bg2" x1="0" y1="0" x2="0" y2="1"><stop offset="0" stop-color="#b8b8b8"/><stop offset="1" stop-color="#b6b6b6"/></linearGradient>
<clipPath id="clip1"><rect x="54.6" y="1574.6" width="860.1" height="194"/></clipPath>
<clipPath id="clip2"><rect x="54.6" y="1793.6" width="860.1" height="187.2"/></clipPath>
</defs>
<rect x="54.6" y="1574.6" width="860.1" height="194" fill="url(#bg1)"/>
<rect x="54.6" y="1574.6" width="860.1" height="194" fill="url(#hx1)"/>
<g clip-path="url(#clip1)">
<g filter="url(#bh1)" fill="#000" opacity="0.5">
<path d="M84.4,1702.2 C84.9,1696.0 89.7,1685.4 93.4,1679.0 C97.2,1672.6 101.8,1667.4 107.0,1664.0 C112.1,1660.6 114.5,1659.7 124.1,1658.7 C133.7,1657.6 151.9,1657.2 164.5,1657.6 C177.2,1658.0 188.1,1660.8 199.9,1660.8 C211.7,1660.8 223.4,1658.7 235.2,1657.6 C247.0,1656.5 259.6,1655.1 270.6,1654.4 C281.5,1653.7 292.8,1652.4 300.9,1653.3 C309.0,1654.2 314.3,1656.3 319.1,1659.7 C323.8,1663.1 327.0,1668.7 329.2,1673.6 C331.3,1678.6 332.2,1684.3 332.2,1689.7 C332.2,1695.0 331.3,1701.1 329.2,1705.7 C327.0,1710.4 323.8,1714.7 319.1,1717.5 C314.3,1720.4 309.0,1722.0 300.9,1722.9 C292.8,1723.8 279.8,1723.2 270.6,1722.9 C261.3,1722.5 253.7,1721.6 245.3,1720.7 C236.9,1719.8 227.7,1718.1 220.1,1717.5 C212.5,1717.0 207.5,1716.4 199.9,1717.5 C192.3,1718.6 183.0,1722.0 174.6,1723.9 C166.2,1725.9 157.8,1727.9 149.4,1729.3 C141.0,1730.6 131.7,1732.3 124.1,1732.0 C116.6,1731.6 109.5,1729.7 103.9,1727.1 C98.4,1724.6 94.0,1720.6 90.8,1716.4 C87.6,1712.3 84.0,1708.5 84.4,1702.2 Z" transform="translate(0,2)"/>
<path d="M381.4,1685.6 C382.2,1676.9 385.5,1661.6 389.6,1654.4 C393.7,1647.1 399.1,1644.5 405.9,1642.2 C412.8,1639.9 421.0,1640.2 430.6,1640.5 C440.1,1640.8 452.5,1643.1 463.4,1644.0 C474.3,1645.0 485.3,1646.9 496.2,1646.1 C507.2,1645.4 518.1,1641.2 529.0,1639.7 C540.0,1638.2 550.8,1636.6 561.8,1637.1 C572.7,1637.5 586.4,1639.3 594.6,1642.2 C602.8,1645.1 607.2,1648.9 611.1,1654.4 C614.9,1659.9 617.6,1667.7 617.6,1675.3 C617.6,1682.8 614.9,1692.9 611.1,1699.5 C607.2,1706.2 602.8,1712.0 594.6,1715.2 C586.4,1718.4 572.7,1719.0 561.8,1718.7 C550.8,1718.4 540.0,1714.5 529.0,1713.6 C518.1,1712.6 505.8,1712.1 496.2,1713.0 C486.6,1713.9 481.2,1716.5 471.6,1718.9 C462.0,1721.3 448.3,1725.7 438.8,1727.4 C429.2,1729.1 421.6,1730.2 414.2,1729.1 C406.8,1727.9 399.4,1724.3 394.5,1720.5 C389.6,1716.8 386.8,1712.4 384.6,1706.6 C382.4,1700.8 380.6,1694.3 381.4,1685.6 Z" transform="translate(0,2)"/>
<path d="M648.8,1676.2 C650.4,1669.0 654.9,1653.6 659.5,1646.7 C664.0,1639.7 669.0,1637.4 675.8,1634.5 C682.7,1631.6 690.9,1629.5 700.5,1629.2 C710.0,1629.0 722.4,1632.2 733.3,1632.8 C744.2,1633.4 755.2,1633.6 766.1,1632.8 C777.1,1631.9 788.0,1629.0 798.9,1627.5 C809.9,1626.1 820.7,1624.7 831.7,1624.1 C842.6,1623.5 854.9,1622.7 864.5,1624.1 C874.1,1625.5 883.1,1629.0 889.1,1632.8 C895.2,1636.5 898.3,1642.1 900.6,1646.7 C903.0,1651.3 903.6,1655.6 903.1,1660.5 C902.5,1665.4 901.0,1670.1 897.3,1676.2 C893.6,1682.3 887.8,1691.9 881.0,1697.1 C874.1,1702.3 865.9,1706.3 856.3,1707.5 C846.7,1708.6 833.0,1706.0 823.5,1704.0 C813.9,1702.0 808.5,1696.8 798.9,1695.4 C789.4,1693.9 777.1,1693.9 766.1,1695.4 C755.2,1696.8 744.2,1700.9 733.3,1704.0 C722.4,1707.2 710.0,1712.7 700.5,1714.4 C690.9,1716.1 682.7,1715.9 675.8,1714.4 C669.0,1713.0 663.8,1709.8 659.5,1705.7 C655.1,1701.7 651.4,1695.0 649.7,1690.1 C647.9,1685.2 647.1,1683.5 648.8,1676.2 Z" transform="translate(0,2)"/>
</g><g filter="url(#bc1)" fill="#020202">
<path d="M84.4,1702.2 C84.9,1696.0 89.7,1685.4 93.4,1679.0 C97.2,1672.6 101.8,1667.4 107.0,1664.0 C112.1,1660.6 114.5,1659.7 124.1,1658.7 C133.7,1657.6 151.9,1657.2 164.5,1657.6 C177.2,1658.0 188.1,1660.8 199.9,1660.8 C211.7,1660.8 223.4,1658.7 235.2,1657.6 C247.0,1656.5 259.6,1655.1 270.6,1654.4 C281.5,1653.7 292.8,1652.4 300.9,1653.3 C309.0,1654.2 314.3,1656.3 319.1,1659.7 C323.8,1663.1 327.0,1668.7 329.2,1673.6 C331.3,1678.6 332.2,1684.3 332.2,1689.7 C332.2,1695.0 331.3,1701.1 329.2,1705.7 C327.0,1710.4 323.8,1714.7 319.1,1717.5 C314.3,1720.4 309.0,1722.0 300.9,1722.9 C292.8,1723.8 279.8,1723.2 270.6,1722.9 C261.3,1722.5 253.7,1721.6 245.3,1720.7 C236.9,1719.8 227.7,1718.1 220.1,1717.5 C212.5,1717.0 207.5,1716.4 199.9,1717.5 C192.3,1718.6 183.0,1722.0 174.6,1723.9 C166.2,1725.9 157.8,1727.9 149.4,1729.3 C141.0,1730.6 131.7,1732.3 124.1,1732.0 C116.6,1731.6 109.5,1729.7 103.9,1727.1 C98.4,1724.6 94.0,1720.6 90.8,1716.4 C87.6,1712.3 84.0,1708.5 84.4,1702.2 Z"/>
<path d="M381.4,1685.6 C382.2,1676.9 385.5,1661.6 389.6,1654.4 C393.7,1647.1 399.1,1644.5 405.9,1642.2 C412.8,1639.9 421.0,1640.2 430.6,1640.5 C440.1,1640.8 452.5,1643.1 463.4,1644.0 C474.3,1645.0 485.3,1646.9 496.2,1646.1 C507.2,1645.4 518.1,1641.2 529.0,1639.7 C540.0,1638.2 550.8,1636.6 561.8,1637.1 C572.7,1637.5 586.4,1639.3 594.6,1642.2 C602.8,1645.1 607.2,1648.9 611.1,1654.4 C614.9,1659.9 617.6,1667.7 617.6,1675.3 C617.6,1682.8 614.9,1692.9 611.1,1699.5 C607.2,1706.2 602.8,1712.0 594.6,1715.2 C586.4,1718.4 572.7,1719.0 561.8,1718.7 C550.8,1718.4 540.0,1714.5 529.0,1713.6 C518.1,1712.6 505.8,1712.1 496.2,1713.0 C486.6,1713.9 481.2,1716.5 471.6,1718.9 C462.0,1721.3 448.3,1725.7 438.8,1727.4 C429.2,1729.1 421.6,1730.2 414.2,1729.1 C406.8,1727.9 399.4,1724.3 394.5,1720.5 C389.6,1716.8 386.8,1712.4 384.6,1706.6 C382.4,1700.8 380.6,1694.3 381.4,1685.6 Z"/>
<path d="M648.8,1676.2 C650.4,1669.0 654.9,1653.6 659.5,1646.7 C664.0,1639.7 669.0,1637.4 675.8,1634.5 C682.7,1631.6 690.9,1629.5 700.5,1629.2 C710.0,1629.0 722.4,1632.2 733.3,1632.8 C744.2,1633.4 755.2,1633.6 766.1,1632.8 C777.1,1631.9 788.0,1629.0 798.9,1627.5 C809.9,1626.1 820.7,1624.7 831.7,1624.1 C842.6,1623.5 854.9,1622.7 864.5,1624.1 C874.1,1625.5 883.1,1629.0 889.1,1632.8 C895.2,1636.5 898.3,1642.1 900.6,1646.7 C903.0,1651.3 903.6,1655.6 903.1,1660.5 C902.5,1665.4 901.0,1670.1 897.3,1676.2 C893.6,1682.3 887.8,1691.9 881.0,1697.1 C874.1,1702.3 865.9,1706.3 856.3,1707.5 C846.7,1708.6 833.0,1706.0 823.5,1704.0 C813.9,1702.0 808.5,1696.8 798.9,1695.4 C789.4,1693.9 777.1,1693.9 766.1,1695.4 C755.2,1696.8 744.2,1700.9 733.3,1704.0 C722.4,1707.2 710.0,1712.7 700.5,1714.4 C690.9,1716.1 682.7,1715.9 675.8,1714.4 C669.0,1713.0 663.8,1709.8 659.5,1705.7 C655.1,1701.7 651.4,1695.0 649.7,1690.1 C647.9,1685.2 647.1,1683.5 648.8,1676.2 Z"/>
</g></g>
<line x1="54.6" y1="1575.3" x2="914.7" y2="1575.3" stroke="#8a8a8a" stroke-width="1.4"/>
<line x1="54.6" y1="1577.5" x2="914.7" y2="1577.5" stroke="#dedede" stroke-width="1.6"/>
<line x1="55.3" y1="1574.6" x2="55.3" y2="1768.6" stroke="#8a8a8a" stroke-width="1.2"/>
<rect x="54.6" y="1793.6" width="860.1" height="187.2" fill="url(#bg2)"/>
<g clip-path="url(#clip2)">
<g filter="url(#bs)" fill="#c0c0c0"><rect x="342" y="1790" width="30" height="200"/><rect x="612" y="1790" width="34" height="200"/><rect x="895" y="1790" width="30" height="200"/></g>
<g filter="url(#bh2)" fill="#000" opacity="0.62">
<path d="M84.9,1915.1 C86.0,1908.0 88.9,1895.6 94.6,1889.6 C100.3,1883.7 106.8,1881.7 119.0,1879.4 C131.2,1877.2 151.5,1877.1 167.7,1876.0 C183.9,1874.8 200.2,1872.9 216.4,1872.6 C232.6,1872.3 252.9,1872.6 265.1,1874.3 C277.3,1876.0 282.2,1878.5 289.5,1882.8 C296.8,1887.1 304.9,1894.7 309.0,1899.8 C313.1,1904.9 314.4,1908.3 313.9,1913.5 C313.3,1918.6 311.1,1926.0 305.7,1930.6 C300.3,1935.1 293.6,1938.2 281.4,1940.8 C269.2,1943.3 248.9,1944.5 232.7,1945.9 C216.4,1947.3 200.2,1948.7 183.9,1949.3 C167.7,1949.8 148.7,1950.1 135.2,1949.3 C121.7,1948.4 110.5,1947.1 102.7,1944.2 C94.9,1941.4 91.1,1937.1 88.1,1932.3 C85.1,1927.4 83.8,1922.2 84.9,1915.1 Z" transform="translate(0,4)"/>
<path d="M390.3,1900.6 C390.6,1893.8 391.7,1885.9 396.8,1880.3 C401.9,1874.6 409.0,1869.5 421.2,1866.6 C433.4,1863.8 453.6,1864.3 469.9,1863.1 C486.1,1862.0 505.2,1860.3 518.7,1859.8 C532.2,1859.2 541.6,1858.6 551.1,1859.8 C560.6,1860.9 569.3,1863.2 575.5,1866.6 C581.7,1870.0 585.5,1875.7 588.5,1880.3 C591.5,1884.8 594.2,1888.2 593.4,1893.9 C592.6,1899.6 590.6,1908.9 583.6,1914.3 C576.6,1919.7 564.6,1923.1 551.1,1926.2 C537.6,1929.4 518.6,1931.1 502.4,1933.1 C486.2,1935.1 468.6,1937.9 453.7,1938.2 C438.8,1938.5 422.9,1937.7 413.1,1934.9 C403.4,1932.0 399.0,1926.9 395.2,1921.2 C391.4,1915.5 390.0,1907.4 390.3,1900.6 Z" transform="translate(0,4)"/>
<path d="M659.0,1886.0 C660.4,1877.2 667.0,1862.4 676.8,1857.0 C686.5,1851.6 702.6,1853.9 717.5,1853.7 C732.4,1853.4 750.0,1855.3 766.2,1855.3 C782.4,1855.3 798.7,1854.5 814.9,1853.7 C831.1,1852.8 852.8,1848.8 863.6,1850.2 C874.4,1851.6 876.6,1857.6 879.9,1862.2 C883.1,1866.7 884.5,1871.5 883.1,1877.5 C881.7,1883.5 880.4,1893.7 871.7,1898.0 C863.0,1902.2 846.0,1901.3 831.1,1903.0 C816.2,1904.7 795.9,1906.3 782.4,1908.3 C768.9,1910.3 763.4,1913.6 749.9,1915.0 C736.4,1916.4 714.7,1917.5 701.2,1916.7 C687.7,1915.8 675.7,1915.0 668.7,1909.9 C661.7,1904.8 657.6,1894.8 659.0,1886.0 Z" transform="translate(0,4)"/>
</g><g filter="url(#bc2)">
<path d="M84.9,1915.1 C86.0,1908.0 88.9,1895.6 94.6,1889.6 C100.3,1883.7 106.8,1881.7 119.0,1879.4 C131.2,1877.2 151.5,1877.1 167.7,1876.0 C183.9,1874.8 200.2,1872.9 216.4,1872.6 C232.6,1872.3 252.9,1872.6 265.1,1874.3 C277.3,1876.0 282.2,1878.5 289.5,1882.8 C296.8,1887.1 304.9,1894.7 309.0,1899.8 C313.1,1904.9 314.4,1908.3 313.9,1913.5 C313.3,1918.6 311.1,1926.0 305.7,1930.6 C300.3,1935.1 293.6,1938.2 281.4,1940.8 C269.2,1943.3 248.9,1944.5 232.7,1945.9 C216.4,1947.3 200.2,1948.7 183.9,1949.3 C167.7,1949.8 148.7,1950.1 135.2,1949.3 C121.7,1948.4 110.5,1947.1 102.7,1944.2 C94.9,1941.4 91.1,1937.1 88.1,1932.3 C85.1,1927.4 83.8,1922.2 84.9,1915.1 Z" fill="#000"/>
<path d="M390.3,1900.6 C390.6,1893.8 391.7,1885.9 396.8,1880.3 C401.9,1874.6 409.0,1869.5 421.2,1866.6 C433.4,1863.8 453.6,1864.3 469.9,1863.1 C486.1,1862.0 505.2,1860.3 518.7,1859.8 C532.2,1859.2 541.6,1858.6 551.1,1859.8 C560.6,1860.9 569.3,1863.2 575.5,1866.6 C581.7,1870.0 585.5,1875.7 588.5,1880.3 C591.5,1884.8 594.2,1888.2 593.4,1893.9 C592.6,1899.6 590.6,1908.9 583.6,1914.3 C576.6,1919.7 564.6,1923.1 551.1,1926.2 C537.6,1929.4 518.6,1931.1 502.4,1933.1 C486.2,1935.1 468.6,1937.9 453.7,1938.2 C438.8,1938.5 422.9,1937.7 413.1,1934.9 C403.4,1932.0 399.0,1926.9 395.2,1921.2 C391.4,1915.5 390.0,1907.4 390.3,1900.6 Z" fill="#000"/>
</g>
<path d="M659.0,1886.0 C660.4,1877.2 667.0,1862.4 676.8,1857.0 C686.5,1851.6 702.6,1853.9 717.5,1853.7 C732.4,1853.4 750.0,1855.3 766.2,1855.3 C782.4,1855.3 798.7,1854.5 814.9,1853.7 C831.1,1852.8 852.8,1848.8 863.6,1850.2 C874.4,1851.6 876.6,1857.6 879.9,1862.2 C883.1,1866.7 884.5,1871.5 883.1,1877.5 C881.7,1883.5 880.4,1893.7 871.7,1898.0 C863.0,1902.2 846.0,1901.3 831.1,1903.0 C816.2,1904.7 795.9,1906.3 782.4,1908.3 C768.9,1910.3 763.4,1913.6 749.9,1915.0 C736.4,1916.4 714.7,1917.5 701.2,1916.7 C687.7,1915.8 675.7,1915.0 668.7,1909.9 C661.7,1904.8 657.6,1894.8 659.0,1886.0 Z" fill="#000" opacity="0.72" filter="url(#bc2)"/>
<g filter="url(#bc3)" fill="#000"><ellipse cx="726" cy="1884" rx="42" ry="22"/><ellipse cx="823" cy="1874" rx="34" ry="14"/></g>
</g>
<line x1="54.6" y1="1794.2" x2="914.7" y2="1794.2" stroke="#a0a0a0" stroke-width="1.2"/>
<line x1="54.6" y1="1979.5" x2="914.7" y2="1979.5" stroke="#8c8c8c" stroke-width="3"/>
<rect x="1141.4" y="1566.6" width="174.5" height="448.9" fill="#fff" stroke="#000" stroke-width="1.6"/>
<rect x="1404.2" y="1552.5" width="175.6" height="463.0" fill="#000" stroke="#000" stroke-width="1.6"/>
<rect x="1668.3" y="1688.9" width="174.7" height="326.6" fill="#9e9e9e" stroke="#000" stroke-width="1.6"/>
<line x1="1228.50" y1="1519.80" x2="1228.50" y2="1567.50" stroke="#000" stroke-width="1.6" stroke-linecap="butt"/>
<line x1="1180.10" y1="1519.80" x2="1276.80" y2="1519.80" stroke="#000" stroke-width="1.6" stroke-linecap="butt"/>
<line x1="1492.00" y1="1530.30" x2="1492.00" y2="1552.50" stroke="#000" stroke-width="1.6" stroke-linecap="butt"/>
<line x1="1443.20" y1="1530.30" x2="1540.80" y2="1530.30" stroke="#000" stroke-width="1.6" stroke-linecap="butt"/>
<line x1="1755.70" y1="1676.40" x2="1755.70" y2="1688.90" stroke="#000" stroke-width="1.6" stroke-linecap="butt"/>
<line x1="1707.10" y1="1676.40" x2="1804.20" y2="1676.40" stroke="#000" stroke-width="1.6" stroke-linecap="butt"/>
<rect x="1096.8" y="1443.6" width="790.6" height="571.9" fill="none" stroke="#000" stroke-width="1.6"/>
<line x1="1085.80" y1="2015.50" x2="1096.80" y2="2015.50" stroke="#000" stroke-width="1.6" stroke-linecap="butt"/>
<text x="1077.4" y="2025.3" font-size="32.5" text-anchor="end" font-weight="normal" font-style="normal" >0</text>
<line x1="1085.80" y1="1910.30" x2="1096.80" y2="1910.30" stroke="#000" stroke-width="1.6" stroke-linecap="butt"/>
<text x="1077.4" y="1921.6" font-size="32.5" text-anchor="end" font-weight="normal" font-style="normal" >0.2</text>
<line x1="1085.80" y1="1805.10" x2="1096.80" y2="1805.10" stroke="#000" stroke-width="1.6" stroke-linecap="butt"/>
<text x="1077.4" y="1816.4" font-size="32.5" text-anchor="end" font-weight="normal" font-style="normal" >0.4</text>
<line x1="1085.80" y1="1699.90" x2="1096.80" y2="1699.90" stroke="#000" stroke-width="1.6" stroke-linecap="butt"/>
<text x="1077.4" y="1711.2" font-size="32.5" text-anchor="end" font-weight="normal" font-style="normal" >0.6</text>
<line x1="1085.80" y1="1594.70" x2="1096.80" y2="1594.70" stroke="#000" stroke-width="1.6" stroke-linecap="butt"/>
<text x="1077.4" y="1606.0" font-size="32.5" text-anchor="end" font-weight="normal" font-style="normal" >0.8</text>
<line x1="1085.80" y1="1489.50" x2="1096.80" y2="1489.50" stroke="#000" stroke-width="1.6" stroke-linecap="butt"/>
<text x="1077.4" y="1500.8" font-size="32.5" text-anchor="end" font-weight="normal" font-style="normal" >1.0</text>
<line x1="1228.40" y1="2015.50" x2="1228.40" y2="2026.50" stroke="#000" stroke-width="1.6" stroke-linecap="butt"/>
<line x1="1491.80" y1="2015.50" x2="1491.80" y2="2026.50" stroke="#000" stroke-width="1.6" stroke-linecap="butt"/>
<line x1="1755.70" y1="2015.50" x2="1755.70" y2="2026.50" stroke="#000" stroke-width="1.6" stroke-linecap="butt"/>
<text x="1228.7" y="2065.5" font-size="33" text-anchor="middle" font-weight="normal" font-style="normal" >PBS</text>
<text x="1493.6" y="2065.5" font-size="33" text-anchor="middle" font-weight="normal" font-style="normal" >siNC</text>
<text x="1760.8" y="2065.5" font-size="33" text-anchor="middle" font-weight="normal" font-style="normal" >siPDCD4</text>
<text transform="translate(1001.3,1860.8) rotate(-90)" font-size="33.7" font-weight="bold">PDCD4/Vinculin</text>
<text x="1568.1" y="1469.9" font-size="33.3" font-style="italic">p</text>
<text x="1602.3" y="1469.9" font-size="33.3" text-anchor="middle">=</text>
<text x="1695.1" y="1469.9" font-size="33.3" text-anchor="end">0.013</text>
<path d="M1492.5,1507.3 L1492.5,1476.8 L1755.7,1476.8 L1755.7,1553.1" fill="none" stroke="#000" stroke-width="1.6"/>
<text x="1760.2" y="1662.5" font-size="33" text-anchor="middle" font-weight="normal" font-style="normal" >*</text>
</svg></body></html>
